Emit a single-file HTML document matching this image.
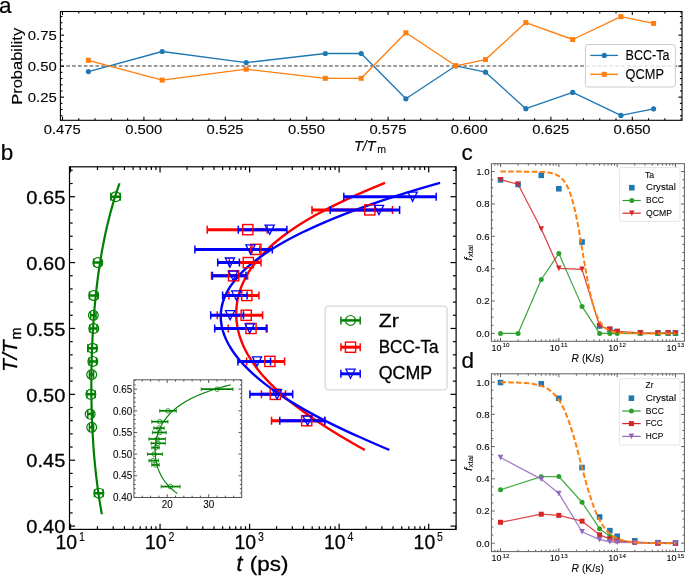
<!DOCTYPE html><html><head><meta charset="utf-8"><style>html,body{margin:0;padding:0;background:#fff;}svg{display:block;will-change:transform;}text{font-family:"Liberation Sans", sans-serif;stroke:#000;stroke-width:0.3px;} text.s{stroke-width:0.08px;} text.m{stroke-width:0.1px;}</style></head><body>
<svg width="685" height="576" viewBox="0 0 685 576">
<rect width="685" height="576" fill="#fff"/>
<defs><clipPath id="clipb"><rect x="69.5" y="167" width="386.6" height="362.2"/></clipPath></defs>
<line x1="60.40" y1="66.00" x2="682.00" y2="66.00" stroke="#7a7a7a" stroke-width="1.3" stroke-dasharray="3.7 2.14"/>
<polyline points="88.40,71.60 162.20,51.50 246.20,62.60 325.30,53.50 361.20,53.50 405.90,98.80 455.80,65.80 485.50,72.20 525.80,108.70 572.70,92.40 620.90,115.40 653.60,108.80" fill="none" stroke="#1f77b4" stroke-width="1.35" stroke-linejoin="round" stroke-linecap="butt" />
<circle cx="88.40" cy="71.60" r="2.6" fill="#1f77b4"/>
<circle cx="162.20" cy="51.50" r="2.6" fill="#1f77b4"/>
<circle cx="246.20" cy="62.60" r="2.6" fill="#1f77b4"/>
<circle cx="325.30" cy="53.50" r="2.6" fill="#1f77b4"/>
<circle cx="361.20" cy="53.50" r="2.6" fill="#1f77b4"/>
<circle cx="405.90" cy="98.80" r="2.6" fill="#1f77b4"/>
<circle cx="455.80" cy="65.80" r="2.6" fill="#1f77b4"/>
<circle cx="485.50" cy="72.20" r="2.6" fill="#1f77b4"/>
<circle cx="525.80" cy="108.70" r="2.6" fill="#1f77b4"/>
<circle cx="572.70" cy="92.40" r="2.6" fill="#1f77b4"/>
<circle cx="620.90" cy="115.40" r="2.6" fill="#1f77b4"/>
<circle cx="653.60" cy="108.80" r="2.6" fill="#1f77b4"/>
<polyline points="88.40,60.30 162.20,80.10 246.20,69.20 325.30,78.30 361.20,78.30 405.90,32.80 455.80,65.80 485.50,59.60 525.80,22.60 572.70,39.50 620.90,16.60 653.60,23.40" fill="none" stroke="#ff7f0e" stroke-width="1.35" stroke-linejoin="round" stroke-linecap="butt" />
<rect x="85.90" y="57.80" width="5" height="5" fill="#ff7f0e"/>
<rect x="159.70" y="77.60" width="5" height="5" fill="#ff7f0e"/>
<rect x="243.70" y="66.70" width="5" height="5" fill="#ff7f0e"/>
<rect x="322.80" y="75.80" width="5" height="5" fill="#ff7f0e"/>
<rect x="358.70" y="75.80" width="5" height="5" fill="#ff7f0e"/>
<rect x="403.40" y="30.30" width="5" height="5" fill="#ff7f0e"/>
<rect x="453.30" y="63.30" width="5" height="5" fill="#ff7f0e"/>
<rect x="483.00" y="57.10" width="5" height="5" fill="#ff7f0e"/>
<rect x="523.30" y="20.10" width="5" height="5" fill="#ff7f0e"/>
<rect x="570.20" y="37.00" width="5" height="5" fill="#ff7f0e"/>
<rect x="618.40" y="14.10" width="5" height="5" fill="#ff7f0e"/>
<rect x="651.10" y="20.90" width="5" height="5" fill="#ff7f0e"/>
<line x1="62.50" y1="120.30" x2="62.50" y2="116.70" stroke="#000" stroke-width="1.1" />
<line x1="62.50" y1="11.50" x2="62.50" y2="15.10" stroke="#000" stroke-width="1.1" />
<line x1="143.90" y1="120.30" x2="143.90" y2="116.70" stroke="#000" stroke-width="1.1" />
<line x1="143.90" y1="11.50" x2="143.90" y2="15.10" stroke="#000" stroke-width="1.1" />
<line x1="225.30" y1="120.30" x2="225.30" y2="116.70" stroke="#000" stroke-width="1.1" />
<line x1="225.30" y1="11.50" x2="225.30" y2="15.10" stroke="#000" stroke-width="1.1" />
<line x1="306.70" y1="120.30" x2="306.70" y2="116.70" stroke="#000" stroke-width="1.1" />
<line x1="306.70" y1="11.50" x2="306.70" y2="15.10" stroke="#000" stroke-width="1.1" />
<line x1="388.10" y1="120.30" x2="388.10" y2="116.70" stroke="#000" stroke-width="1.1" />
<line x1="388.10" y1="11.50" x2="388.10" y2="15.10" stroke="#000" stroke-width="1.1" />
<line x1="469.50" y1="120.30" x2="469.50" y2="116.70" stroke="#000" stroke-width="1.1" />
<line x1="469.50" y1="11.50" x2="469.50" y2="15.10" stroke="#000" stroke-width="1.1" />
<line x1="550.90" y1="120.30" x2="550.90" y2="116.70" stroke="#000" stroke-width="1.1" />
<line x1="550.90" y1="11.50" x2="550.90" y2="15.10" stroke="#000" stroke-width="1.1" />
<line x1="632.30" y1="120.30" x2="632.30" y2="116.70" stroke="#000" stroke-width="1.1" />
<line x1="632.30" y1="11.50" x2="632.30" y2="15.10" stroke="#000" stroke-width="1.1" />
<line x1="78.78" y1="120.30" x2="78.78" y2="118.20" stroke="#000" stroke-width="1.1" />
<line x1="78.78" y1="11.50" x2="78.78" y2="13.60" stroke="#000" stroke-width="1.1" />
<line x1="95.06" y1="120.30" x2="95.06" y2="118.20" stroke="#000" stroke-width="1.1" />
<line x1="95.06" y1="11.50" x2="95.06" y2="13.60" stroke="#000" stroke-width="1.1" />
<line x1="111.34" y1="120.30" x2="111.34" y2="118.20" stroke="#000" stroke-width="1.1" />
<line x1="111.34" y1="11.50" x2="111.34" y2="13.60" stroke="#000" stroke-width="1.1" />
<line x1="127.62" y1="120.30" x2="127.62" y2="118.20" stroke="#000" stroke-width="1.1" />
<line x1="127.62" y1="11.50" x2="127.62" y2="13.60" stroke="#000" stroke-width="1.1" />
<line x1="160.18" y1="120.30" x2="160.18" y2="118.20" stroke="#000" stroke-width="1.1" />
<line x1="160.18" y1="11.50" x2="160.18" y2="13.60" stroke="#000" stroke-width="1.1" />
<line x1="176.46" y1="120.30" x2="176.46" y2="118.20" stroke="#000" stroke-width="1.1" />
<line x1="176.46" y1="11.50" x2="176.46" y2="13.60" stroke="#000" stroke-width="1.1" />
<line x1="192.74" y1="120.30" x2="192.74" y2="118.20" stroke="#000" stroke-width="1.1" />
<line x1="192.74" y1="11.50" x2="192.74" y2="13.60" stroke="#000" stroke-width="1.1" />
<line x1="209.02" y1="120.30" x2="209.02" y2="118.20" stroke="#000" stroke-width="1.1" />
<line x1="209.02" y1="11.50" x2="209.02" y2="13.60" stroke="#000" stroke-width="1.1" />
<line x1="241.58" y1="120.30" x2="241.58" y2="118.20" stroke="#000" stroke-width="1.1" />
<line x1="241.58" y1="11.50" x2="241.58" y2="13.60" stroke="#000" stroke-width="1.1" />
<line x1="257.86" y1="120.30" x2="257.86" y2="118.20" stroke="#000" stroke-width="1.1" />
<line x1="257.86" y1="11.50" x2="257.86" y2="13.60" stroke="#000" stroke-width="1.1" />
<line x1="274.14" y1="120.30" x2="274.14" y2="118.20" stroke="#000" stroke-width="1.1" />
<line x1="274.14" y1="11.50" x2="274.14" y2="13.60" stroke="#000" stroke-width="1.1" />
<line x1="290.42" y1="120.30" x2="290.42" y2="118.20" stroke="#000" stroke-width="1.1" />
<line x1="290.42" y1="11.50" x2="290.42" y2="13.60" stroke="#000" stroke-width="1.1" />
<line x1="322.98" y1="120.30" x2="322.98" y2="118.20" stroke="#000" stroke-width="1.1" />
<line x1="322.98" y1="11.50" x2="322.98" y2="13.60" stroke="#000" stroke-width="1.1" />
<line x1="339.26" y1="120.30" x2="339.26" y2="118.20" stroke="#000" stroke-width="1.1" />
<line x1="339.26" y1="11.50" x2="339.26" y2="13.60" stroke="#000" stroke-width="1.1" />
<line x1="355.54" y1="120.30" x2="355.54" y2="118.20" stroke="#000" stroke-width="1.1" />
<line x1="355.54" y1="11.50" x2="355.54" y2="13.60" stroke="#000" stroke-width="1.1" />
<line x1="371.82" y1="120.30" x2="371.82" y2="118.20" stroke="#000" stroke-width="1.1" />
<line x1="371.82" y1="11.50" x2="371.82" y2="13.60" stroke="#000" stroke-width="1.1" />
<line x1="404.38" y1="120.30" x2="404.38" y2="118.20" stroke="#000" stroke-width="1.1" />
<line x1="404.38" y1="11.50" x2="404.38" y2="13.60" stroke="#000" stroke-width="1.1" />
<line x1="420.66" y1="120.30" x2="420.66" y2="118.20" stroke="#000" stroke-width="1.1" />
<line x1="420.66" y1="11.50" x2="420.66" y2="13.60" stroke="#000" stroke-width="1.1" />
<line x1="436.94" y1="120.30" x2="436.94" y2="118.20" stroke="#000" stroke-width="1.1" />
<line x1="436.94" y1="11.50" x2="436.94" y2="13.60" stroke="#000" stroke-width="1.1" />
<line x1="453.22" y1="120.30" x2="453.22" y2="118.20" stroke="#000" stroke-width="1.1" />
<line x1="453.22" y1="11.50" x2="453.22" y2="13.60" stroke="#000" stroke-width="1.1" />
<line x1="485.78" y1="120.30" x2="485.78" y2="118.20" stroke="#000" stroke-width="1.1" />
<line x1="485.78" y1="11.50" x2="485.78" y2="13.60" stroke="#000" stroke-width="1.1" />
<line x1="502.06" y1="120.30" x2="502.06" y2="118.20" stroke="#000" stroke-width="1.1" />
<line x1="502.06" y1="11.50" x2="502.06" y2="13.60" stroke="#000" stroke-width="1.1" />
<line x1="518.34" y1="120.30" x2="518.34" y2="118.20" stroke="#000" stroke-width="1.1" />
<line x1="518.34" y1="11.50" x2="518.34" y2="13.60" stroke="#000" stroke-width="1.1" />
<line x1="534.62" y1="120.30" x2="534.62" y2="118.20" stroke="#000" stroke-width="1.1" />
<line x1="534.62" y1="11.50" x2="534.62" y2="13.60" stroke="#000" stroke-width="1.1" />
<line x1="567.18" y1="120.30" x2="567.18" y2="118.20" stroke="#000" stroke-width="1.1" />
<line x1="567.18" y1="11.50" x2="567.18" y2="13.60" stroke="#000" stroke-width="1.1" />
<line x1="583.46" y1="120.30" x2="583.46" y2="118.20" stroke="#000" stroke-width="1.1" />
<line x1="583.46" y1="11.50" x2="583.46" y2="13.60" stroke="#000" stroke-width="1.1" />
<line x1="599.74" y1="120.30" x2="599.74" y2="118.20" stroke="#000" stroke-width="1.1" />
<line x1="599.74" y1="11.50" x2="599.74" y2="13.60" stroke="#000" stroke-width="1.1" />
<line x1="616.02" y1="120.30" x2="616.02" y2="118.20" stroke="#000" stroke-width="1.1" />
<line x1="616.02" y1="11.50" x2="616.02" y2="13.60" stroke="#000" stroke-width="1.1" />
<line x1="648.58" y1="120.30" x2="648.58" y2="118.20" stroke="#000" stroke-width="1.1" />
<line x1="648.58" y1="11.50" x2="648.58" y2="13.60" stroke="#000" stroke-width="1.1" />
<line x1="664.86" y1="120.30" x2="664.86" y2="118.20" stroke="#000" stroke-width="1.1" />
<line x1="664.86" y1="11.50" x2="664.86" y2="13.60" stroke="#000" stroke-width="1.1" />
<line x1="681.14" y1="120.30" x2="681.14" y2="118.20" stroke="#000" stroke-width="1.1" />
<line x1="681.14" y1="11.50" x2="681.14" y2="13.60" stroke="#000" stroke-width="1.1" />
<line x1="60.40" y1="97.15" x2="64.00" y2="97.15" stroke="#000" stroke-width="1.1" />
<line x1="682.00" y1="97.15" x2="678.40" y2="97.15" stroke="#000" stroke-width="1.1" />
<line x1="60.40" y1="66.15" x2="64.00" y2="66.15" stroke="#000" stroke-width="1.1" />
<line x1="682.00" y1="66.15" x2="678.40" y2="66.15" stroke="#000" stroke-width="1.1" />
<line x1="60.40" y1="35.15" x2="64.00" y2="35.15" stroke="#000" stroke-width="1.1" />
<line x1="682.00" y1="35.15" x2="678.40" y2="35.15" stroke="#000" stroke-width="1.1" />
<line x1="60.40" y1="115.75" x2="62.50" y2="115.75" stroke="#000" stroke-width="1.1" />
<line x1="682.00" y1="115.75" x2="679.90" y2="115.75" stroke="#000" stroke-width="1.1" />
<line x1="60.40" y1="109.55" x2="62.50" y2="109.55" stroke="#000" stroke-width="1.1" />
<line x1="682.00" y1="109.55" x2="679.90" y2="109.55" stroke="#000" stroke-width="1.1" />
<line x1="60.40" y1="103.35" x2="62.50" y2="103.35" stroke="#000" stroke-width="1.1" />
<line x1="682.00" y1="103.35" x2="679.90" y2="103.35" stroke="#000" stroke-width="1.1" />
<line x1="60.40" y1="90.95" x2="62.50" y2="90.95" stroke="#000" stroke-width="1.1" />
<line x1="682.00" y1="90.95" x2="679.90" y2="90.95" stroke="#000" stroke-width="1.1" />
<line x1="60.40" y1="84.75" x2="62.50" y2="84.75" stroke="#000" stroke-width="1.1" />
<line x1="682.00" y1="84.75" x2="679.90" y2="84.75" stroke="#000" stroke-width="1.1" />
<line x1="60.40" y1="78.55" x2="62.50" y2="78.55" stroke="#000" stroke-width="1.1" />
<line x1="682.00" y1="78.55" x2="679.90" y2="78.55" stroke="#000" stroke-width="1.1" />
<line x1="60.40" y1="72.35" x2="62.50" y2="72.35" stroke="#000" stroke-width="1.1" />
<line x1="682.00" y1="72.35" x2="679.90" y2="72.35" stroke="#000" stroke-width="1.1" />
<line x1="60.40" y1="59.95" x2="62.50" y2="59.95" stroke="#000" stroke-width="1.1" />
<line x1="682.00" y1="59.95" x2="679.90" y2="59.95" stroke="#000" stroke-width="1.1" />
<line x1="60.40" y1="53.75" x2="62.50" y2="53.75" stroke="#000" stroke-width="1.1" />
<line x1="682.00" y1="53.75" x2="679.90" y2="53.75" stroke="#000" stroke-width="1.1" />
<line x1="60.40" y1="47.55" x2="62.50" y2="47.55" stroke="#000" stroke-width="1.1" />
<line x1="682.00" y1="47.55" x2="679.90" y2="47.55" stroke="#000" stroke-width="1.1" />
<line x1="60.40" y1="41.35" x2="62.50" y2="41.35" stroke="#000" stroke-width="1.1" />
<line x1="682.00" y1="41.35" x2="679.90" y2="41.35" stroke="#000" stroke-width="1.1" />
<line x1="60.40" y1="28.95" x2="62.50" y2="28.95" stroke="#000" stroke-width="1.1" />
<line x1="682.00" y1="28.95" x2="679.90" y2="28.95" stroke="#000" stroke-width="1.1" />
<line x1="60.40" y1="22.75" x2="62.50" y2="22.75" stroke="#000" stroke-width="1.1" />
<line x1="682.00" y1="22.75" x2="679.90" y2="22.75" stroke="#000" stroke-width="1.1" />
<line x1="60.40" y1="16.55" x2="62.50" y2="16.55" stroke="#000" stroke-width="1.1" />
<line x1="682.00" y1="16.55" x2="679.90" y2="16.55" stroke="#000" stroke-width="1.1" />
<rect x="60.40" y="11.50" width="621.60" height="108.80" fill="none" stroke="#000" stroke-width="1.1"/>
<text class="m" x="62.30" y="134.30" font-size="13.0" text-anchor="middle" textLength="37.00" lengthAdjust="spacingAndGlyphs" fill="#000" >0.475</text>
<text class="m" x="143.70" y="134.30" font-size="13.0" text-anchor="middle" textLength="37.00" lengthAdjust="spacingAndGlyphs" fill="#000" >0.500</text>
<text class="m" x="225.10" y="134.30" font-size="13.0" text-anchor="middle" textLength="37.00" lengthAdjust="spacingAndGlyphs" fill="#000" >0.525</text>
<text class="m" x="306.50" y="134.30" font-size="13.0" text-anchor="middle" textLength="37.00" lengthAdjust="spacingAndGlyphs" fill="#000" >0.550</text>
<text class="m" x="387.90" y="134.30" font-size="13.0" text-anchor="middle" textLength="37.00" lengthAdjust="spacingAndGlyphs" fill="#000" >0.575</text>
<text class="m" x="469.30" y="134.30" font-size="13.0" text-anchor="middle" textLength="37.00" lengthAdjust="spacingAndGlyphs" fill="#000" >0.600</text>
<text class="m" x="550.70" y="134.30" font-size="13.0" text-anchor="middle" textLength="37.00" lengthAdjust="spacingAndGlyphs" fill="#000" >0.625</text>
<text class="m" x="632.10" y="134.30" font-size="13.0" text-anchor="middle" textLength="37.00" lengthAdjust="spacingAndGlyphs" fill="#000" >0.650</text>
<text class="m" x="56.80" y="102.05" font-size="13.2" text-anchor="end" textLength="29.00" lengthAdjust="spacingAndGlyphs" fill="#000" >0.25</text>
<text class="m" x="56.80" y="71.05" font-size="13.2" text-anchor="end" textLength="29.00" lengthAdjust="spacingAndGlyphs" fill="#000" >0.50</text>
<text class="m" x="56.80" y="40.05" font-size="13.2" text-anchor="end" textLength="29.00" lengthAdjust="spacingAndGlyphs" fill="#000" >0.75</text>
<text class="m" x="354.00" y="150.70" font-size="14.4" text-anchor="start" font-style="italic" fill="#000" >T/T</text>
<text class="s" x="377.20" y="153.10" font-size="10.6" text-anchor="start" fill="#000" >m</text>
<text class="m" transform="translate(22.1,104.8) rotate(-90)" x="0" y="0" font-size="14.8" textLength="77.0" lengthAdjust="spacingAndGlyphs">Probability</text>
<rect x="585.4" y="44.5" width="90" height="42.5" rx="2.5" fill="#fff" fill-opacity="0.8" stroke="#ccc" stroke-width="1"/>
<line x1="590.30" y1="55.40" x2="618.00" y2="55.40" stroke="#1f77b4" stroke-width="1.35" />
<circle cx="604.3" cy="55.4" r="2.6" fill="#1f77b4"/>
<line x1="590.30" y1="74.30" x2="618.00" y2="74.30" stroke="#ff7f0e" stroke-width="1.35" />
<rect x="601.8" y="71.8" width="5" height="5" fill="#ff7f0e"/>
<text class="m" x="625.60" y="60.10" font-size="14.0" text-anchor="start" textLength="43.90" lengthAdjust="spacingAndGlyphs" fill="#000" >BCC-Ta</text>
<text class="m" x="625.60" y="79.10" font-size="14.0" text-anchor="start" textLength="38.30" lengthAdjust="spacingAndGlyphs" fill="#000" >QCMP</text>
<text x="-0.90" y="12.70" font-size="22.5" text-anchor="start" fill="#000" style="stroke-width:0.2px">a</text>
<g clip-path="url(#clipb)">
<polyline points="101.89,514.24 101.12,510.05 100.39,505.86 99.70,501.67 99.04,497.48 98.42,493.29 97.83,489.10 97.27,484.91 96.74,480.72 96.24,476.53 95.77,472.35 95.32,468.16 94.91,463.97 94.52,459.78 94.15,455.59 93.81,451.40 93.50,447.21 93.21,443.02 92.94,438.83 92.70,434.64 92.47,430.45 92.27,426.26 92.09,422.07 91.93,417.88 91.79,413.69 91.67,409.50 91.57,405.31 91.48,401.12 91.42,396.93 91.38,392.74 91.35,388.55 91.35,384.36 91.36,380.17 91.39,375.98 91.44,371.79 91.51,367.60 91.59,363.41 91.70,359.23 91.82,355.04 91.96,350.85 92.12,346.66 92.30,342.47 92.50,338.28 92.72,334.09 92.96,329.90 93.22,325.71 93.50,321.52 93.81,317.33 94.13,313.14 94.48,308.95 94.85,304.76 95.24,300.57 95.66,296.38 96.11,292.19 96.58,288.00 97.07,283.81 97.60,279.62 98.15,275.43 98.73,271.24 99.34,267.05 99.98,262.86 100.65,258.67 101.36,254.48 102.10,250.29 102.88,246.10 103.69,241.92 104.54,237.73 105.42,233.54 106.35,229.35 107.32,225.16 108.33,220.97 109.38,216.78 110.48,212.59 111.62,208.40 112.81,204.21 114.06,200.02 115.35,195.83 116.70,191.64 118.10,187.45 119.55,183.26" fill="none" stroke="#008000" stroke-width="2.2" stroke-linejoin="round" stroke-linecap="butt" />
<polyline points="385.00,182.90 379.50,185.14 374.08,187.39 368.75,189.63 363.51,191.88 358.37,194.12 353.34,196.37 348.41,198.61 343.60,200.86 338.89,203.10 334.30,205.35 329.82,207.59 325.45,209.83 321.21,212.08 317.08,214.32 313.07,216.57 309.17,218.81 305.40,221.06 301.74,223.30 298.19,225.55 294.76,227.79 291.45,230.04 288.25,232.28 285.16,234.52 282.19,236.77 279.32,239.01 276.56,241.26 273.91,243.50 271.36,245.75 268.91,247.99 266.57,250.24 264.33,252.48 262.19,254.73 260.14,256.97 258.19,259.21 256.33,261.46 254.56,263.70 252.88,265.95 251.29,268.19 249.79,270.44 248.38,272.68 247.04,274.93 245.80,277.17 244.63,279.42 243.54,281.66 242.53,283.90 241.60,286.15 240.75,288.39 239.98,290.64 239.27,292.88 238.65,295.13 238.09,297.37 237.61,299.62 237.20,301.86 236.87,304.11 236.60,306.35 236.41,308.59 236.28,310.84 236.23,313.08 236.25,315.33 236.33,317.57 236.49,319.82 236.71,322.06 237.00,324.31 237.37,326.55 237.80,328.79 238.30,331.04 238.87,333.28 239.51,335.53 240.22,337.77 241.01,340.02 241.86,342.26 242.78,344.51 243.77,346.75 244.83,349.00 245.97,351.24 247.17,353.48 248.45,355.73 249.80,357.97 251.22,360.22 252.71,362.46 254.27,364.71 255.91,366.95 257.62,369.20 259.40,371.44 261.25,373.69 263.18,375.93 265.17,378.17 267.24,380.42 269.39,382.66 271.60,384.91 273.88,387.15 276.24,389.40 278.67,391.64 281.17,393.89 283.73,396.13 286.37,398.38 289.08,400.62 291.86,402.86 294.70,405.11 297.61,407.35 300.59,409.60 303.64,411.84 306.75,414.09 309.92,416.33 313.16,418.58 316.46,420.82 319.83,423.07 323.26,425.31 326.74,427.55 330.29,429.80 333.90,432.04 337.57,434.29 341.29,436.53 345.07,438.78 348.91,441.02 352.81,443.27 356.76,445.51 360.76,447.76 364.83,450.00" fill="none" stroke="#ff0000" stroke-width="2.4" stroke-linejoin="round" stroke-linecap="butt" />
<polyline points="440.02,182.90 432.06,185.14 424.29,187.39 416.69,189.63 409.27,191.88 402.02,194.12 394.93,196.37 388.01,198.61 381.25,200.86 374.65,203.10 368.21,205.35 361.92,207.59 355.79,209.83 349.81,212.08 343.98,214.32 338.29,216.57 332.76,218.81 327.37,221.06 322.13,223.30 317.03,225.55 312.08,227.79 307.26,230.04 302.59,232.28 298.06,234.52 293.67,236.77 289.41,239.01 285.30,241.26 281.32,243.50 277.48,245.75 273.77,247.99 270.20,250.24 266.76,252.48 263.45,254.73 260.28,256.97 257.23,259.21 254.32,261.46 251.53,263.70 248.88,265.95 246.35,268.19 243.94,270.44 241.67,272.68 239.51,274.93 237.48,277.17 235.57,279.42 233.79,281.66 232.12,283.90 230.57,286.15 229.14,288.39 227.83,290.64 226.63,292.88 225.55,295.13 224.58,297.37 223.72,299.62 222.98,301.86 222.34,304.11 221.81,306.35 221.40,308.59 221.09,310.84 220.88,313.08 220.78,315.33 220.78,317.57 220.89,319.82 221.10,322.06 221.41,324.31 221.83,326.55 222.34,328.79 222.95,331.04 223.66,333.28 224.47,335.53 225.37,337.77 226.37,340.02 227.47,342.26 228.66,344.51 229.95,346.75 231.34,349.00 232.81,351.24 234.39,353.48 236.05,355.73 237.81,357.97 239.67,360.22 241.62,362.46 243.66,364.71 245.80,366.95 248.03,369.20 250.35,371.44 252.77,373.69 255.28,375.93 257.89,378.17 260.59,380.42 263.39,382.66 266.28,384.91 269.27,387.15 272.35,389.40 275.53,391.64 278.80,393.89 282.17,396.13 285.64,398.38 289.20,400.62 292.85,402.86 296.60,405.11 300.45,407.35 304.38,409.60 308.42,411.84 312.54,414.09 316.75,416.33 321.06,418.58 325.45,420.82 329.93,423.07 334.49,425.31 339.14,427.55 343.87,429.80 348.67,432.04 353.55,434.29 358.50,436.53 363.51,438.78 368.58,441.02 373.72,443.27 378.90,445.51 384.12,447.76 389.39,450.00" fill="none" stroke="#0000ff" stroke-width="2.4" stroke-linejoin="round" stroke-linecap="butt" />
<line x1="110.82" y1="196.70" x2="120.17" y2="196.70" stroke="#008000" stroke-width="2.5" />
<line x1="110.82" y1="192.70" x2="110.82" y2="200.70" stroke="#008000" stroke-width="1.5" />
<line x1="120.17" y1="192.70" x2="120.17" y2="200.70" stroke="#008000" stroke-width="1.5" />
<line x1="93.77" y1="262.58" x2="101.52" y2="262.58" stroke="#008000" stroke-width="2.5" />
<line x1="93.77" y1="258.58" x2="93.77" y2="266.58" stroke="#008000" stroke-width="1.5" />
<line x1="101.52" y1="258.58" x2="101.52" y2="266.58" stroke="#008000" stroke-width="1.5" />
<line x1="89.43" y1="295.52" x2="97.82" y2="295.52" stroke="#008000" stroke-width="2.5" />
<line x1="89.43" y1="291.52" x2="89.43" y2="299.52" stroke="#008000" stroke-width="1.5" />
<line x1="97.82" y1="291.52" x2="97.82" y2="299.52" stroke="#008000" stroke-width="1.5" />
<line x1="90.58" y1="315.28" x2="96.03" y2="315.28" stroke="#008000" stroke-width="2.5" />
<line x1="90.58" y1="311.28" x2="90.58" y2="319.28" stroke="#008000" stroke-width="1.5" />
<line x1="96.03" y1="311.28" x2="96.03" y2="319.28" stroke="#008000" stroke-width="1.5" />
<line x1="89.81" y1="328.46" x2="97.01" y2="328.46" stroke="#008000" stroke-width="2.5" />
<line x1="89.81" y1="324.46" x2="89.81" y2="332.46" stroke="#008000" stroke-width="1.5" />
<line x1="97.01" y1="324.46" x2="97.01" y2="332.46" stroke="#008000" stroke-width="1.5" />
<line x1="87.77" y1="348.22" x2="96.69" y2="348.22" stroke="#008000" stroke-width="2.5" />
<line x1="87.77" y1="344.22" x2="87.77" y2="352.22" stroke="#008000" stroke-width="1.5" />
<line x1="96.69" y1="344.22" x2="96.69" y2="352.22" stroke="#008000" stroke-width="1.5" />
<line x1="89.02" y1="361.40" x2="96.55" y2="361.40" stroke="#008000" stroke-width="2.5" />
<line x1="89.02" y1="357.40" x2="89.02" y2="365.40" stroke="#008000" stroke-width="1.5" />
<line x1="96.55" y1="357.40" x2="96.55" y2="365.40" stroke="#008000" stroke-width="1.5" />
<line x1="89.43" y1="374.58" x2="93.58" y2="374.58" stroke="#008000" stroke-width="2.5" />
<line x1="89.43" y1="370.58" x2="89.43" y2="378.58" stroke="#008000" stroke-width="1.5" />
<line x1="93.58" y1="370.58" x2="93.58" y2="378.58" stroke="#008000" stroke-width="1.5" />
<line x1="86.91" y1="394.34" x2="95.20" y2="394.34" stroke="#008000" stroke-width="2.5" />
<line x1="86.91" y1="390.34" x2="86.91" y2="398.34" stroke="#008000" stroke-width="1.5" />
<line x1="95.20" y1="390.34" x2="95.20" y2="398.34" stroke="#008000" stroke-width="1.5" />
<line x1="87.77" y1="414.10" x2="93.21" y2="414.10" stroke="#008000" stroke-width="2.5" />
<line x1="87.77" y1="410.10" x2="87.77" y2="418.10" stroke="#008000" stroke-width="1.5" />
<line x1="93.21" y1="410.10" x2="93.21" y2="418.10" stroke="#008000" stroke-width="1.5" />
<line x1="89.43" y1="427.28" x2="93.58" y2="427.28" stroke="#008000" stroke-width="2.5" />
<line x1="89.43" y1="423.28" x2="89.43" y2="431.28" stroke="#008000" stroke-width="1.5" />
<line x1="93.58" y1="423.28" x2="93.58" y2="431.28" stroke="#008000" stroke-width="1.5" />
<line x1="94.49" y1="493.16" x2="103.08" y2="493.16" stroke="#008000" stroke-width="2.5" />
<line x1="94.49" y1="489.16" x2="94.49" y2="497.16" stroke="#008000" stroke-width="1.5" />
<line x1="103.08" y1="489.16" x2="103.08" y2="497.16" stroke="#008000" stroke-width="1.5" />
<line x1="312.00" y1="209.88" x2="392.50" y2="209.88" stroke="#ff0000" stroke-width="3.0" />
<line x1="312.00" y1="205.88" x2="312.00" y2="213.88" stroke="#ff0000" stroke-width="1.5" />
<line x1="392.50" y1="205.88" x2="392.50" y2="213.88" stroke="#ff0000" stroke-width="1.5" />
<line x1="207.20" y1="229.64" x2="267.23" y2="229.64" stroke="#ff0000" stroke-width="3.0" />
<line x1="207.20" y1="225.64" x2="207.20" y2="233.64" stroke="#ff0000" stroke-width="1.5" />
<line x1="267.23" y1="225.64" x2="267.23" y2="233.64" stroke="#ff0000" stroke-width="1.5" />
<line x1="252.00" y1="249.40" x2="259.80" y2="249.40" stroke="#ff0000" stroke-width="3.0" />
<line x1="252.00" y1="245.40" x2="252.00" y2="253.40" stroke="#ff0000" stroke-width="1.5" />
<line x1="259.80" y1="245.40" x2="259.80" y2="253.40" stroke="#ff0000" stroke-width="1.5" />
<line x1="229.32" y1="262.58" x2="261.00" y2="262.58" stroke="#ff0000" stroke-width="3.0" />
<line x1="229.32" y1="258.58" x2="229.32" y2="266.58" stroke="#ff0000" stroke-width="1.5" />
<line x1="261.00" y1="258.58" x2="261.00" y2="266.58" stroke="#ff0000" stroke-width="1.5" />
<line x1="211.50" y1="275.76" x2="247.61" y2="275.76" stroke="#ff0000" stroke-width="3.0" />
<line x1="211.50" y1="271.76" x2="211.50" y2="279.76" stroke="#ff0000" stroke-width="1.5" />
<line x1="247.61" y1="271.76" x2="247.61" y2="279.76" stroke="#ff0000" stroke-width="1.5" />
<line x1="228.92" y1="295.52" x2="259.00" y2="295.52" stroke="#ff0000" stroke-width="3.0" />
<line x1="228.92" y1="291.52" x2="228.92" y2="299.52" stroke="#ff0000" stroke-width="1.5" />
<line x1="259.00" y1="291.52" x2="259.00" y2="299.52" stroke="#ff0000" stroke-width="1.5" />
<line x1="217.30" y1="315.28" x2="262.60" y2="315.28" stroke="#ff0000" stroke-width="3.0" />
<line x1="217.30" y1="311.28" x2="217.30" y2="319.28" stroke="#ff0000" stroke-width="1.5" />
<line x1="262.60" y1="311.28" x2="262.60" y2="319.28" stroke="#ff0000" stroke-width="1.5" />
<line x1="228.20" y1="328.46" x2="266.20" y2="328.46" stroke="#ff0000" stroke-width="3.0" />
<line x1="228.20" y1="324.46" x2="228.20" y2="332.46" stroke="#ff0000" stroke-width="1.5" />
<line x1="266.20" y1="324.46" x2="266.20" y2="332.46" stroke="#ff0000" stroke-width="1.5" />
<line x1="246.60" y1="361.40" x2="284.60" y2="361.40" stroke="#ff0000" stroke-width="3.0" />
<line x1="246.60" y1="357.40" x2="246.60" y2="365.40" stroke="#ff0000" stroke-width="1.5" />
<line x1="284.60" y1="357.40" x2="284.60" y2="365.40" stroke="#ff0000" stroke-width="1.5" />
<line x1="261.40" y1="394.34" x2="285.50" y2="394.34" stroke="#ff0000" stroke-width="3.0" />
<line x1="261.40" y1="390.34" x2="261.40" y2="398.34" stroke="#ff0000" stroke-width="1.5" />
<line x1="285.50" y1="390.34" x2="285.50" y2="398.34" stroke="#ff0000" stroke-width="1.5" />
<line x1="271.50" y1="420.69" x2="324.87" y2="420.69" stroke="#ff0000" stroke-width="3.0" />
<line x1="271.50" y1="416.69" x2="271.50" y2="424.69" stroke="#ff0000" stroke-width="1.5" />
<line x1="324.87" y1="416.69" x2="324.87" y2="424.69" stroke="#ff0000" stroke-width="1.5" />
<line x1="343.80" y1="196.70" x2="436.20" y2="196.70" stroke="#0000ff" stroke-width="3.0" />
<line x1="343.80" y1="192.70" x2="343.80" y2="200.70" stroke="#0000ff" stroke-width="1.5" />
<line x1="436.20" y1="192.70" x2="436.20" y2="200.70" stroke="#0000ff" stroke-width="1.5" />
<line x1="330.20" y1="209.88" x2="399.60" y2="209.88" stroke="#0000ff" stroke-width="3.0" />
<line x1="330.20" y1="205.88" x2="330.20" y2="213.88" stroke="#0000ff" stroke-width="1.5" />
<line x1="399.60" y1="205.88" x2="399.60" y2="213.88" stroke="#0000ff" stroke-width="1.5" />
<line x1="238.30" y1="229.64" x2="286.90" y2="229.64" stroke="#0000ff" stroke-width="3.0" />
<line x1="238.30" y1="225.64" x2="238.30" y2="233.64" stroke="#0000ff" stroke-width="1.5" />
<line x1="286.90" y1="225.64" x2="286.90" y2="233.64" stroke="#0000ff" stroke-width="1.5" />
<line x1="194.90" y1="249.40" x2="272.30" y2="249.40" stroke="#0000ff" stroke-width="3.0" />
<line x1="194.90" y1="245.40" x2="194.90" y2="253.40" stroke="#0000ff" stroke-width="1.5" />
<line x1="272.30" y1="245.40" x2="272.30" y2="253.40" stroke="#0000ff" stroke-width="1.5" />
<line x1="217.70" y1="262.58" x2="239.40" y2="262.58" stroke="#0000ff" stroke-width="3.0" />
<line x1="217.70" y1="258.58" x2="217.70" y2="266.58" stroke="#0000ff" stroke-width="1.5" />
<line x1="239.40" y1="258.58" x2="239.40" y2="266.58" stroke="#0000ff" stroke-width="1.5" />
<line x1="212.40" y1="275.76" x2="246.00" y2="275.76" stroke="#0000ff" stroke-width="3.0" />
<line x1="212.40" y1="271.76" x2="212.40" y2="279.76" stroke="#0000ff" stroke-width="1.5" />
<line x1="246.00" y1="271.76" x2="246.00" y2="279.76" stroke="#0000ff" stroke-width="1.5" />
<line x1="222.60" y1="295.52" x2="247.10" y2="295.52" stroke="#0000ff" stroke-width="3.0" />
<line x1="222.60" y1="291.52" x2="222.60" y2="299.52" stroke="#0000ff" stroke-width="1.5" />
<line x1="247.10" y1="291.52" x2="247.10" y2="299.52" stroke="#0000ff" stroke-width="1.5" />
<line x1="210.70" y1="315.28" x2="243.50" y2="315.28" stroke="#0000ff" stroke-width="3.0" />
<line x1="210.70" y1="311.28" x2="210.70" y2="319.28" stroke="#0000ff" stroke-width="1.5" />
<line x1="243.50" y1="311.28" x2="243.50" y2="319.28" stroke="#0000ff" stroke-width="1.5" />
<line x1="214.70" y1="328.46" x2="267.00" y2="328.46" stroke="#0000ff" stroke-width="3.0" />
<line x1="214.70" y1="324.46" x2="214.70" y2="332.46" stroke="#0000ff" stroke-width="1.5" />
<line x1="267.00" y1="324.46" x2="267.00" y2="332.46" stroke="#0000ff" stroke-width="1.5" />
<line x1="237.90" y1="361.40" x2="270.50" y2="361.40" stroke="#0000ff" stroke-width="3.0" />
<line x1="237.90" y1="357.40" x2="237.90" y2="365.40" stroke="#0000ff" stroke-width="1.5" />
<line x1="270.50" y1="357.40" x2="270.50" y2="365.40" stroke="#0000ff" stroke-width="1.5" />
<line x1="249.90" y1="394.34" x2="292.70" y2="394.34" stroke="#0000ff" stroke-width="3.0" />
<line x1="249.90" y1="390.34" x2="249.90" y2="398.34" stroke="#0000ff" stroke-width="1.5" />
<line x1="292.70" y1="390.34" x2="292.70" y2="398.34" stroke="#0000ff" stroke-width="1.5" />
<line x1="279.80" y1="420.69" x2="324.80" y2="420.69" stroke="#0000ff" stroke-width="3.0" />
<line x1="279.80" y1="416.69" x2="279.80" y2="424.69" stroke="#0000ff" stroke-width="1.5" />
<line x1="324.80" y1="416.69" x2="324.80" y2="424.69" stroke="#0000ff" stroke-width="1.5" />
<circle cx="115.76" cy="196.70" r="4.9" fill="none" stroke="#008000" stroke-width="1.2"/>
<circle cx="97.82" cy="262.58" r="4.9" fill="none" stroke="#008000" stroke-width="1.2"/>
<circle cx="93.77" cy="295.52" r="4.9" fill="none" stroke="#008000" stroke-width="1.2"/>
<circle cx="93.36" cy="315.28" r="4.9" fill="none" stroke="#008000" stroke-width="1.2"/>
<circle cx="93.77" cy="328.46" r="4.9" fill="none" stroke="#008000" stroke-width="1.2"/>
<circle cx="92.46" cy="348.22" r="4.9" fill="none" stroke="#008000" stroke-width="1.2"/>
<circle cx="92.84" cy="361.40" r="4.9" fill="none" stroke="#008000" stroke-width="1.2"/>
<circle cx="91.70" cy="374.58" r="4.9" fill="none" stroke="#008000" stroke-width="1.2"/>
<circle cx="90.84" cy="394.34" r="4.9" fill="none" stroke="#008000" stroke-width="1.2"/>
<circle cx="90.16" cy="414.10" r="4.9" fill="none" stroke="#008000" stroke-width="1.2"/>
<circle cx="91.70" cy="427.28" r="4.9" fill="none" stroke="#008000" stroke-width="1.2"/>
<circle cx="98.93" cy="493.16" r="4.9" fill="none" stroke="#008000" stroke-width="1.2"/>
<rect x="364.70" y="204.78" width="10.2" height="10.2" fill="none" stroke="#ff0000" stroke-width="1.4"/>
<rect x="242.70" y="224.54" width="10.2" height="10.2" fill="none" stroke="#ff0000" stroke-width="1.4"/>
<rect x="250.80" y="244.30" width="10.2" height="10.2" fill="none" stroke="#ff0000" stroke-width="1.4"/>
<rect x="243.20" y="257.48" width="10.2" height="10.2" fill="none" stroke="#ff0000" stroke-width="1.4"/>
<rect x="228.50" y="270.66" width="10.2" height="10.2" fill="none" stroke="#ff0000" stroke-width="1.4"/>
<rect x="241.70" y="290.42" width="10.2" height="10.2" fill="none" stroke="#ff0000" stroke-width="1.4"/>
<rect x="241.10" y="310.18" width="10.2" height="10.2" fill="none" stroke="#ff0000" stroke-width="1.4"/>
<rect x="245.90" y="323.36" width="10.2" height="10.2" fill="none" stroke="#ff0000" stroke-width="1.4"/>
<rect x="264.80" y="356.30" width="10.2" height="10.2" fill="none" stroke="#ff0000" stroke-width="1.4"/>
<rect x="270.20" y="389.24" width="10.2" height="10.2" fill="none" stroke="#ff0000" stroke-width="1.4"/>
<rect x="301.60" y="415.59" width="10.2" height="10.2" fill="none" stroke="#ff0000" stroke-width="1.4"/>
<path d="M408.00,192.10 L417.20,192.10 L412.60,201.30 Z" fill="none" stroke="#0000ff" stroke-width="1.3"/>
<path d="M374.40,205.28 L383.60,205.28 L379.00,214.48 Z" fill="none" stroke="#0000ff" stroke-width="1.3"/>
<path d="M265.10,225.04 L274.30,225.04 L269.70,234.24 Z" fill="none" stroke="#0000ff" stroke-width="1.3"/>
<path d="M245.90,244.80 L255.10,244.80 L250.50,254.00 Z" fill="none" stroke="#0000ff" stroke-width="1.3"/>
<path d="M225.30,257.98 L234.50,257.98 L229.90,267.18 Z" fill="none" stroke="#0000ff" stroke-width="1.3"/>
<path d="M228.60,271.16 L237.80,271.16 L233.20,280.36 Z" fill="none" stroke="#0000ff" stroke-width="1.3"/>
<path d="M231.70,290.92 L240.90,290.92 L236.30,300.12 Z" fill="none" stroke="#0000ff" stroke-width="1.3"/>
<path d="M225.50,310.68 L234.70,310.68 L230.10,319.88 Z" fill="none" stroke="#0000ff" stroke-width="1.3"/>
<path d="M245.10,323.86 L254.30,323.86 L249.70,333.06 Z" fill="none" stroke="#0000ff" stroke-width="1.3"/>
<path d="M252.40,356.80 L261.60,356.80 L257.00,366.00 Z" fill="none" stroke="#0000ff" stroke-width="1.3"/>
<path d="M272.40,389.74 L281.60,389.74 L277.00,398.94 Z" fill="none" stroke="#0000ff" stroke-width="1.3"/>
<path d="M303.00,416.09 L312.20,416.09 L307.60,425.29 Z" fill="none" stroke="#0000ff" stroke-width="1.3"/>
</g>
<line x1="70.50" y1="529.40" x2="70.50" y2="523.80" stroke="#000" stroke-width="1.2" />
<line x1="70.50" y1="166.80" x2="70.50" y2="172.40" stroke="#000" stroke-width="1.2" />
<line x1="160.05" y1="529.40" x2="160.05" y2="523.80" stroke="#000" stroke-width="1.2" />
<line x1="160.05" y1="166.80" x2="160.05" y2="172.40" stroke="#000" stroke-width="1.2" />
<line x1="249.60" y1="529.40" x2="249.60" y2="523.80" stroke="#000" stroke-width="1.2" />
<line x1="249.60" y1="166.80" x2="249.60" y2="172.40" stroke="#000" stroke-width="1.2" />
<line x1="339.15" y1="529.40" x2="339.15" y2="523.80" stroke="#000" stroke-width="1.2" />
<line x1="339.15" y1="166.80" x2="339.15" y2="172.40" stroke="#000" stroke-width="1.2" />
<line x1="428.70" y1="529.40" x2="428.70" y2="523.80" stroke="#000" stroke-width="1.2" />
<line x1="428.70" y1="166.80" x2="428.70" y2="172.40" stroke="#000" stroke-width="1.2" />
<line x1="97.46" y1="529.40" x2="97.46" y2="526.20" stroke="#000" stroke-width="1.2" />
<line x1="97.46" y1="166.80" x2="97.46" y2="170.00" stroke="#000" stroke-width="1.2" />
<line x1="113.23" y1="529.40" x2="113.23" y2="526.20" stroke="#000" stroke-width="1.2" />
<line x1="113.23" y1="166.80" x2="113.23" y2="170.00" stroke="#000" stroke-width="1.2" />
<line x1="124.41" y1="529.40" x2="124.41" y2="526.20" stroke="#000" stroke-width="1.2" />
<line x1="124.41" y1="166.80" x2="124.41" y2="170.00" stroke="#000" stroke-width="1.2" />
<line x1="133.09" y1="529.40" x2="133.09" y2="526.20" stroke="#000" stroke-width="1.2" />
<line x1="133.09" y1="166.80" x2="133.09" y2="170.00" stroke="#000" stroke-width="1.2" />
<line x1="140.18" y1="529.40" x2="140.18" y2="526.20" stroke="#000" stroke-width="1.2" />
<line x1="140.18" y1="166.80" x2="140.18" y2="170.00" stroke="#000" stroke-width="1.2" />
<line x1="146.18" y1="529.40" x2="146.18" y2="526.20" stroke="#000" stroke-width="1.2" />
<line x1="146.18" y1="166.80" x2="146.18" y2="170.00" stroke="#000" stroke-width="1.2" />
<line x1="151.37" y1="529.40" x2="151.37" y2="526.20" stroke="#000" stroke-width="1.2" />
<line x1="151.37" y1="166.80" x2="151.37" y2="170.00" stroke="#000" stroke-width="1.2" />
<line x1="155.95" y1="529.40" x2="155.95" y2="526.20" stroke="#000" stroke-width="1.2" />
<line x1="155.95" y1="166.80" x2="155.95" y2="170.00" stroke="#000" stroke-width="1.2" />
<line x1="187.01" y1="529.40" x2="187.01" y2="526.20" stroke="#000" stroke-width="1.2" />
<line x1="187.01" y1="166.80" x2="187.01" y2="170.00" stroke="#000" stroke-width="1.2" />
<line x1="202.78" y1="529.40" x2="202.78" y2="526.20" stroke="#000" stroke-width="1.2" />
<line x1="202.78" y1="166.80" x2="202.78" y2="170.00" stroke="#000" stroke-width="1.2" />
<line x1="213.96" y1="529.40" x2="213.96" y2="526.20" stroke="#000" stroke-width="1.2" />
<line x1="213.96" y1="166.80" x2="213.96" y2="170.00" stroke="#000" stroke-width="1.2" />
<line x1="222.64" y1="529.40" x2="222.64" y2="526.20" stroke="#000" stroke-width="1.2" />
<line x1="222.64" y1="166.80" x2="222.64" y2="170.00" stroke="#000" stroke-width="1.2" />
<line x1="229.73" y1="529.40" x2="229.73" y2="526.20" stroke="#000" stroke-width="1.2" />
<line x1="229.73" y1="166.80" x2="229.73" y2="170.00" stroke="#000" stroke-width="1.2" />
<line x1="235.73" y1="529.40" x2="235.73" y2="526.20" stroke="#000" stroke-width="1.2" />
<line x1="235.73" y1="166.80" x2="235.73" y2="170.00" stroke="#000" stroke-width="1.2" />
<line x1="240.92" y1="529.40" x2="240.92" y2="526.20" stroke="#000" stroke-width="1.2" />
<line x1="240.92" y1="166.80" x2="240.92" y2="170.00" stroke="#000" stroke-width="1.2" />
<line x1="245.50" y1="529.40" x2="245.50" y2="526.20" stroke="#000" stroke-width="1.2" />
<line x1="245.50" y1="166.80" x2="245.50" y2="170.00" stroke="#000" stroke-width="1.2" />
<line x1="276.56" y1="529.40" x2="276.56" y2="526.20" stroke="#000" stroke-width="1.2" />
<line x1="276.56" y1="166.80" x2="276.56" y2="170.00" stroke="#000" stroke-width="1.2" />
<line x1="292.33" y1="529.40" x2="292.33" y2="526.20" stroke="#000" stroke-width="1.2" />
<line x1="292.33" y1="166.80" x2="292.33" y2="170.00" stroke="#000" stroke-width="1.2" />
<line x1="303.51" y1="529.40" x2="303.51" y2="526.20" stroke="#000" stroke-width="1.2" />
<line x1="303.51" y1="166.80" x2="303.51" y2="170.00" stroke="#000" stroke-width="1.2" />
<line x1="312.19" y1="529.40" x2="312.19" y2="526.20" stroke="#000" stroke-width="1.2" />
<line x1="312.19" y1="166.80" x2="312.19" y2="170.00" stroke="#000" stroke-width="1.2" />
<line x1="319.28" y1="529.40" x2="319.28" y2="526.20" stroke="#000" stroke-width="1.2" />
<line x1="319.28" y1="166.80" x2="319.28" y2="170.00" stroke="#000" stroke-width="1.2" />
<line x1="325.28" y1="529.40" x2="325.28" y2="526.20" stroke="#000" stroke-width="1.2" />
<line x1="325.28" y1="166.80" x2="325.28" y2="170.00" stroke="#000" stroke-width="1.2" />
<line x1="330.47" y1="529.40" x2="330.47" y2="526.20" stroke="#000" stroke-width="1.2" />
<line x1="330.47" y1="166.80" x2="330.47" y2="170.00" stroke="#000" stroke-width="1.2" />
<line x1="335.05" y1="529.40" x2="335.05" y2="526.20" stroke="#000" stroke-width="1.2" />
<line x1="335.05" y1="166.80" x2="335.05" y2="170.00" stroke="#000" stroke-width="1.2" />
<line x1="366.11" y1="529.40" x2="366.11" y2="526.20" stroke="#000" stroke-width="1.2" />
<line x1="366.11" y1="166.80" x2="366.11" y2="170.00" stroke="#000" stroke-width="1.2" />
<line x1="381.88" y1="529.40" x2="381.88" y2="526.20" stroke="#000" stroke-width="1.2" />
<line x1="381.88" y1="166.80" x2="381.88" y2="170.00" stroke="#000" stroke-width="1.2" />
<line x1="393.06" y1="529.40" x2="393.06" y2="526.20" stroke="#000" stroke-width="1.2" />
<line x1="393.06" y1="166.80" x2="393.06" y2="170.00" stroke="#000" stroke-width="1.2" />
<line x1="401.74" y1="529.40" x2="401.74" y2="526.20" stroke="#000" stroke-width="1.2" />
<line x1="401.74" y1="166.80" x2="401.74" y2="170.00" stroke="#000" stroke-width="1.2" />
<line x1="408.83" y1="529.40" x2="408.83" y2="526.20" stroke="#000" stroke-width="1.2" />
<line x1="408.83" y1="166.80" x2="408.83" y2="170.00" stroke="#000" stroke-width="1.2" />
<line x1="414.83" y1="529.40" x2="414.83" y2="526.20" stroke="#000" stroke-width="1.2" />
<line x1="414.83" y1="166.80" x2="414.83" y2="170.00" stroke="#000" stroke-width="1.2" />
<line x1="420.02" y1="529.40" x2="420.02" y2="526.20" stroke="#000" stroke-width="1.2" />
<line x1="420.02" y1="166.80" x2="420.02" y2="170.00" stroke="#000" stroke-width="1.2" />
<line x1="424.60" y1="529.40" x2="424.60" y2="526.20" stroke="#000" stroke-width="1.2" />
<line x1="424.60" y1="166.80" x2="424.60" y2="170.00" stroke="#000" stroke-width="1.2" />
<line x1="455.66" y1="529.40" x2="455.66" y2="526.20" stroke="#000" stroke-width="1.2" />
<line x1="455.66" y1="166.80" x2="455.66" y2="170.00" stroke="#000" stroke-width="1.2" />
<line x1="69.50" y1="526.10" x2="75.10" y2="526.10" stroke="#000" stroke-width="1.2" />
<line x1="456.10" y1="526.10" x2="450.50" y2="526.10" stroke="#000" stroke-width="1.2" />
<line x1="69.50" y1="460.22" x2="75.10" y2="460.22" stroke="#000" stroke-width="1.2" />
<line x1="456.10" y1="460.22" x2="450.50" y2="460.22" stroke="#000" stroke-width="1.2" />
<line x1="69.50" y1="394.34" x2="75.10" y2="394.34" stroke="#000" stroke-width="1.2" />
<line x1="456.10" y1="394.34" x2="450.50" y2="394.34" stroke="#000" stroke-width="1.2" />
<line x1="69.50" y1="328.46" x2="75.10" y2="328.46" stroke="#000" stroke-width="1.2" />
<line x1="456.10" y1="328.46" x2="450.50" y2="328.46" stroke="#000" stroke-width="1.2" />
<line x1="69.50" y1="262.58" x2="75.10" y2="262.58" stroke="#000" stroke-width="1.2" />
<line x1="456.10" y1="262.58" x2="450.50" y2="262.58" stroke="#000" stroke-width="1.2" />
<line x1="69.50" y1="196.70" x2="75.10" y2="196.70" stroke="#000" stroke-width="1.2" />
<line x1="456.10" y1="196.70" x2="450.50" y2="196.70" stroke="#000" stroke-width="1.2" />
<line x1="69.50" y1="512.92" x2="72.70" y2="512.92" stroke="#000" stroke-width="1.2" />
<line x1="456.10" y1="512.92" x2="452.90" y2="512.92" stroke="#000" stroke-width="1.2" />
<line x1="69.50" y1="499.75" x2="72.70" y2="499.75" stroke="#000" stroke-width="1.2" />
<line x1="456.10" y1="499.75" x2="452.90" y2="499.75" stroke="#000" stroke-width="1.2" />
<line x1="69.50" y1="486.57" x2="72.70" y2="486.57" stroke="#000" stroke-width="1.2" />
<line x1="456.10" y1="486.57" x2="452.90" y2="486.57" stroke="#000" stroke-width="1.2" />
<line x1="69.50" y1="473.40" x2="72.70" y2="473.40" stroke="#000" stroke-width="1.2" />
<line x1="456.10" y1="473.40" x2="452.90" y2="473.40" stroke="#000" stroke-width="1.2" />
<line x1="69.50" y1="447.04" x2="72.70" y2="447.04" stroke="#000" stroke-width="1.2" />
<line x1="456.10" y1="447.04" x2="452.90" y2="447.04" stroke="#000" stroke-width="1.2" />
<line x1="69.50" y1="433.87" x2="72.70" y2="433.87" stroke="#000" stroke-width="1.2" />
<line x1="456.10" y1="433.87" x2="452.90" y2="433.87" stroke="#000" stroke-width="1.2" />
<line x1="69.50" y1="420.69" x2="72.70" y2="420.69" stroke="#000" stroke-width="1.2" />
<line x1="456.10" y1="420.69" x2="452.90" y2="420.69" stroke="#000" stroke-width="1.2" />
<line x1="69.50" y1="407.52" x2="72.70" y2="407.52" stroke="#000" stroke-width="1.2" />
<line x1="456.10" y1="407.52" x2="452.90" y2="407.52" stroke="#000" stroke-width="1.2" />
<line x1="69.50" y1="381.16" x2="72.70" y2="381.16" stroke="#000" stroke-width="1.2" />
<line x1="456.10" y1="381.16" x2="452.90" y2="381.16" stroke="#000" stroke-width="1.2" />
<line x1="69.50" y1="367.99" x2="72.70" y2="367.99" stroke="#000" stroke-width="1.2" />
<line x1="456.10" y1="367.99" x2="452.90" y2="367.99" stroke="#000" stroke-width="1.2" />
<line x1="69.50" y1="354.81" x2="72.70" y2="354.81" stroke="#000" stroke-width="1.2" />
<line x1="456.10" y1="354.81" x2="452.90" y2="354.81" stroke="#000" stroke-width="1.2" />
<line x1="69.50" y1="341.64" x2="72.70" y2="341.64" stroke="#000" stroke-width="1.2" />
<line x1="456.10" y1="341.64" x2="452.90" y2="341.64" stroke="#000" stroke-width="1.2" />
<line x1="69.50" y1="315.28" x2="72.70" y2="315.28" stroke="#000" stroke-width="1.2" />
<line x1="456.10" y1="315.28" x2="452.90" y2="315.28" stroke="#000" stroke-width="1.2" />
<line x1="69.50" y1="302.11" x2="72.70" y2="302.11" stroke="#000" stroke-width="1.2" />
<line x1="456.10" y1="302.11" x2="452.90" y2="302.11" stroke="#000" stroke-width="1.2" />
<line x1="69.50" y1="288.93" x2="72.70" y2="288.93" stroke="#000" stroke-width="1.2" />
<line x1="456.10" y1="288.93" x2="452.90" y2="288.93" stroke="#000" stroke-width="1.2" />
<line x1="69.50" y1="275.76" x2="72.70" y2="275.76" stroke="#000" stroke-width="1.2" />
<line x1="456.10" y1="275.76" x2="452.90" y2="275.76" stroke="#000" stroke-width="1.2" />
<line x1="69.50" y1="249.40" x2="72.70" y2="249.40" stroke="#000" stroke-width="1.2" />
<line x1="456.10" y1="249.40" x2="452.90" y2="249.40" stroke="#000" stroke-width="1.2" />
<line x1="69.50" y1="236.23" x2="72.70" y2="236.23" stroke="#000" stroke-width="1.2" />
<line x1="456.10" y1="236.23" x2="452.90" y2="236.23" stroke="#000" stroke-width="1.2" />
<line x1="69.50" y1="223.05" x2="72.70" y2="223.05" stroke="#000" stroke-width="1.2" />
<line x1="456.10" y1="223.05" x2="452.90" y2="223.05" stroke="#000" stroke-width="1.2" />
<line x1="69.50" y1="209.88" x2="72.70" y2="209.88" stroke="#000" stroke-width="1.2" />
<line x1="456.10" y1="209.88" x2="452.90" y2="209.88" stroke="#000" stroke-width="1.2" />
<line x1="69.50" y1="183.52" x2="72.70" y2="183.52" stroke="#000" stroke-width="1.2" />
<line x1="456.10" y1="183.52" x2="452.90" y2="183.52" stroke="#000" stroke-width="1.2" />
<line x1="69.50" y1="170.35" x2="72.70" y2="170.35" stroke="#000" stroke-width="1.2" />
<line x1="456.10" y1="170.35" x2="452.90" y2="170.35" stroke="#000" stroke-width="1.2" />
<rect x="69.50" y="166.80" width="386.60" height="362.60" fill="none" stroke="#000" stroke-width="1.2"/>
<text x="65.30" y="533.30" font-size="18.9" text-anchor="end" textLength="39.00" lengthAdjust="spacingAndGlyphs" fill="#000" >0.40</text>
<text x="65.30" y="467.42" font-size="18.9" text-anchor="end" textLength="39.00" lengthAdjust="spacingAndGlyphs" fill="#000" >0.45</text>
<text x="65.30" y="401.54" font-size="18.9" text-anchor="end" textLength="39.00" lengthAdjust="spacingAndGlyphs" fill="#000" >0.50</text>
<text x="65.30" y="335.66" font-size="18.9" text-anchor="end" textLength="39.00" lengthAdjust="spacingAndGlyphs" fill="#000" >0.55</text>
<text x="65.30" y="269.78" font-size="18.9" text-anchor="end" textLength="39.00" lengthAdjust="spacingAndGlyphs" fill="#000" >0.60</text>
<text x="65.30" y="203.90" font-size="18.9" text-anchor="end" textLength="39.00" lengthAdjust="spacingAndGlyphs" fill="#000" >0.65</text>
<text x="55.40" y="548.60" font-size="20.4" text-anchor="start" textLength="21.60" lengthAdjust="spacingAndGlyphs" fill="#000" >10</text>
<text class="m" x="78.90" y="541.40" font-size="13.2" text-anchor="start" textLength="5.90" lengthAdjust="spacingAndGlyphs" fill="#000" >1</text>
<text x="144.95" y="548.60" font-size="20.4" text-anchor="start" textLength="21.60" lengthAdjust="spacingAndGlyphs" fill="#000" >10</text>
<text class="m" x="168.45" y="541.40" font-size="13.2" text-anchor="start" textLength="5.90" lengthAdjust="spacingAndGlyphs" fill="#000" >2</text>
<text x="234.50" y="548.60" font-size="20.4" text-anchor="start" textLength="21.60" lengthAdjust="spacingAndGlyphs" fill="#000" >10</text>
<text class="m" x="258.00" y="541.40" font-size="13.2" text-anchor="start" textLength="5.90" lengthAdjust="spacingAndGlyphs" fill="#000" >3</text>
<text x="324.05" y="548.60" font-size="20.4" text-anchor="start" textLength="21.60" lengthAdjust="spacingAndGlyphs" fill="#000" >10</text>
<text class="m" x="347.55" y="541.40" font-size="13.2" text-anchor="start" textLength="5.90" lengthAdjust="spacingAndGlyphs" fill="#000" >4</text>
<text x="413.60" y="548.60" font-size="20.4" text-anchor="start" textLength="21.60" lengthAdjust="spacingAndGlyphs" fill="#000" >10</text>
<text class="m" x="437.10" y="541.40" font-size="13.2" text-anchor="start" textLength="5.90" lengthAdjust="spacingAndGlyphs" fill="#000" >5</text>
<text x="236.60" y="571.40" font-size="21.5" text-anchor="start" font-style="italic" fill="#000" >t</text>
<text x="249.80" y="571.40" font-size="20.4" text-anchor="start" textLength="38.60" lengthAdjust="spacingAndGlyphs" fill="#000" >(ps)</text>
<text transform="translate(17.4,372.0) rotate(-90)" font-size="21" font-style="italic">T/T</text>
<text transform="translate(21.2,339.6) rotate(-90)" font-size="14.5">m</text>
<rect x="133.9" y="379.8" width="107.80" height="117.70" fill="#fff"/>
<polyline points="177.22,493.50 175.40,492.13 173.71,490.75 172.13,489.38 170.65,488.00 169.28,486.62 167.99,485.25 166.79,483.87 165.68,482.50 164.64,481.12 163.67,479.74 162.77,478.37 161.93,476.99 161.16,475.61 160.44,474.24 159.78,472.86 159.17,471.49 158.61,470.11 158.10,468.73 157.63,467.36 157.21,465.98 156.84,464.60 156.50,463.23 156.20,461.85 155.94,460.48 155.72,459.10 155.53,457.72 155.38,456.35 155.27,454.97 155.19,453.60 155.14,452.22 155.13,450.84 155.15,449.47 155.21,448.09 155.30,446.71 155.42,445.34 155.58,443.96 155.77,442.59 156.00,441.21 156.26,439.83 156.56,438.46 156.90,437.08 157.27,435.70 157.68,434.33 158.14,432.95 158.64,431.58 159.18,430.20 159.76,428.82 160.40,427.45 161.08,426.07 161.82,424.70 162.61,423.32 163.46,421.94 164.37,420.57 165.34,419.19 166.39,417.81 167.50,416.44 168.69,415.06 169.96,413.69 171.32,412.31 172.77,410.93 174.31,409.56 175.96,408.18 177.73,406.80 179.61,405.43 181.62,404.05 183.77,402.68 186.06,401.30 188.52,399.92 191.15,398.55 193.96,397.17 196.97,395.79 200.20,394.42 203.67,393.04 207.39,391.67 211.39,390.29 215.69,388.91 220.32,387.54 225.31,386.16 230.69,384.79" fill="none" stroke="#008000" stroke-width="1.15" stroke-linejoin="round" stroke-linecap="butt" />
<line x1="201.23" y1="389.20" x2="233.02" y2="389.20" stroke="#008000" stroke-width="1.7" />
<line x1="201.23" y1="387.30" x2="201.23" y2="391.10" stroke="#008000" stroke-width="0.8" />
<line x1="233.02" y1="387.30" x2="233.02" y2="391.10" stroke="#008000" stroke-width="0.8" />
<circle cx="217.08" cy="389.20" r="2.3" fill="none" stroke="#008000" stroke-width="0.75"/>
<line x1="159.69" y1="410.84" x2="176.33" y2="410.84" stroke="#008000" stroke-width="1.7" />
<line x1="159.69" y1="408.94" x2="159.69" y2="412.74" stroke="#008000" stroke-width="0.8" />
<line x1="176.33" y1="408.94" x2="176.33" y2="412.74" stroke="#008000" stroke-width="0.8" />
<circle cx="167.99" cy="410.84" r="2.3" fill="none" stroke="#008000" stroke-width="0.75"/>
<line x1="151.72" y1="421.66" x2="167.99" y2="421.66" stroke="#008000" stroke-width="1.7" />
<line x1="151.72" y1="419.76" x2="151.72" y2="423.56" stroke="#008000" stroke-width="0.8" />
<line x1="167.99" y1="419.76" x2="167.99" y2="423.56" stroke="#008000" stroke-width="0.8" />
<circle cx="159.69" cy="421.66" r="2.3" fill="none" stroke="#008000" stroke-width="0.75"/>
<line x1="153.75" y1="428.15" x2="164.21" y2="428.15" stroke="#008000" stroke-width="1.7" />
<line x1="153.75" y1="426.25" x2="153.75" y2="430.05" stroke="#008000" stroke-width="0.8" />
<line x1="164.21" y1="426.25" x2="164.21" y2="430.05" stroke="#008000" stroke-width="0.8" />
<circle cx="158.90" cy="428.15" r="2.3" fill="none" stroke="#008000" stroke-width="0.75"/>
<line x1="152.38" y1="432.48" x2="166.25" y2="432.48" stroke="#008000" stroke-width="1.7" />
<line x1="152.38" y1="430.58" x2="152.38" y2="434.38" stroke="#008000" stroke-width="0.8" />
<line x1="166.25" y1="430.58" x2="166.25" y2="434.38" stroke="#008000" stroke-width="0.8" />
<circle cx="159.69" cy="432.48" r="2.3" fill="none" stroke="#008000" stroke-width="0.75"/>
<line x1="148.90" y1="438.97" x2="165.58" y2="438.97" stroke="#008000" stroke-width="1.7" />
<line x1="148.90" y1="437.07" x2="148.90" y2="440.87" stroke="#008000" stroke-width="0.8" />
<line x1="165.58" y1="437.07" x2="165.58" y2="440.87" stroke="#008000" stroke-width="0.8" />
<circle cx="157.20" cy="438.97" r="2.3" fill="none" stroke="#008000" stroke-width="0.75"/>
<line x1="151.01" y1="443.30" x2="165.29" y2="443.30" stroke="#008000" stroke-width="1.7" />
<line x1="151.01" y1="441.40" x2="151.01" y2="445.20" stroke="#008000" stroke-width="0.8" />
<line x1="165.29" y1="441.40" x2="165.29" y2="445.20" stroke="#008000" stroke-width="0.8" />
<circle cx="157.90" cy="443.30" r="2.3" fill="none" stroke="#008000" stroke-width="0.75"/>
<line x1="151.72" y1="447.63" x2="159.31" y2="447.63" stroke="#008000" stroke-width="1.7" />
<line x1="151.72" y1="445.73" x2="151.72" y2="449.53" stroke="#008000" stroke-width="0.8" />
<line x1="159.31" y1="445.73" x2="159.31" y2="449.53" stroke="#008000" stroke-width="0.8" />
<circle cx="155.79" cy="447.63" r="2.3" fill="none" stroke="#008000" stroke-width="0.75"/>
<line x1="147.49" y1="454.12" x2="162.51" y2="454.12" stroke="#008000" stroke-width="1.7" />
<line x1="147.49" y1="452.22" x2="147.49" y2="456.02" stroke="#008000" stroke-width="0.8" />
<line x1="162.51" y1="452.22" x2="162.51" y2="456.02" stroke="#008000" stroke-width="0.8" />
<circle cx="154.21" cy="454.12" r="2.3" fill="none" stroke="#008000" stroke-width="0.75"/>
<line x1="148.90" y1="460.61" x2="158.61" y2="460.61" stroke="#008000" stroke-width="1.7" />
<line x1="148.90" y1="458.71" x2="148.90" y2="462.51" stroke="#008000" stroke-width="0.8" />
<line x1="158.61" y1="458.71" x2="158.61" y2="462.51" stroke="#008000" stroke-width="0.8" />
<circle cx="153.01" cy="460.61" r="2.3" fill="none" stroke="#008000" stroke-width="0.75"/>
<line x1="151.72" y1="464.94" x2="159.31" y2="464.94" stroke="#008000" stroke-width="1.7" />
<line x1="151.72" y1="463.04" x2="151.72" y2="466.84" stroke="#008000" stroke-width="0.8" />
<line x1="159.31" y1="463.04" x2="159.31" y2="466.84" stroke="#008000" stroke-width="0.8" />
<circle cx="155.79" cy="464.94" r="2.3" fill="none" stroke="#008000" stroke-width="0.75"/>
<line x1="161.10" y1="486.58" x2="180.11" y2="486.58" stroke="#008000" stroke-width="1.7" />
<line x1="161.10" y1="484.68" x2="161.10" y2="488.48" stroke="#008000" stroke-width="0.8" />
<line x1="180.11" y1="484.68" x2="180.11" y2="488.48" stroke="#008000" stroke-width="0.8" />
<circle cx="170.40" cy="486.58" r="2.3" fill="none" stroke="#008000" stroke-width="0.75"/>
<line x1="167.20" y1="497.50" x2="167.20" y2="494.30" stroke="#555" stroke-width="1.0" />
<line x1="167.20" y1="379.80" x2="167.20" y2="383.00" stroke="#555" stroke-width="1.0" />
<line x1="208.70" y1="497.50" x2="208.70" y2="494.30" stroke="#555" stroke-width="1.0" />
<line x1="208.70" y1="379.80" x2="208.70" y2="383.00" stroke="#555" stroke-width="1.0" />
<line x1="142.30" y1="497.50" x2="142.30" y2="495.70" stroke="#555" stroke-width="1.0" />
<line x1="142.30" y1="379.80" x2="142.30" y2="381.60" stroke="#555" stroke-width="1.0" />
<line x1="150.60" y1="497.50" x2="150.60" y2="495.70" stroke="#555" stroke-width="1.0" />
<line x1="150.60" y1="379.80" x2="150.60" y2="381.60" stroke="#555" stroke-width="1.0" />
<line x1="158.90" y1="497.50" x2="158.90" y2="495.70" stroke="#555" stroke-width="1.0" />
<line x1="158.90" y1="379.80" x2="158.90" y2="381.60" stroke="#555" stroke-width="1.0" />
<line x1="175.50" y1="497.50" x2="175.50" y2="495.70" stroke="#555" stroke-width="1.0" />
<line x1="175.50" y1="379.80" x2="175.50" y2="381.60" stroke="#555" stroke-width="1.0" />
<line x1="183.80" y1="497.50" x2="183.80" y2="495.70" stroke="#555" stroke-width="1.0" />
<line x1="183.80" y1="379.80" x2="183.80" y2="381.60" stroke="#555" stroke-width="1.0" />
<line x1="192.10" y1="497.50" x2="192.10" y2="495.70" stroke="#555" stroke-width="1.0" />
<line x1="192.10" y1="379.80" x2="192.10" y2="381.60" stroke="#555" stroke-width="1.0" />
<line x1="200.40" y1="497.50" x2="200.40" y2="495.70" stroke="#555" stroke-width="1.0" />
<line x1="200.40" y1="379.80" x2="200.40" y2="381.60" stroke="#555" stroke-width="1.0" />
<line x1="217.00" y1="497.50" x2="217.00" y2="495.70" stroke="#555" stroke-width="1.0" />
<line x1="217.00" y1="379.80" x2="217.00" y2="381.60" stroke="#555" stroke-width="1.0" />
<line x1="225.30" y1="497.50" x2="225.30" y2="495.70" stroke="#555" stroke-width="1.0" />
<line x1="225.30" y1="379.80" x2="225.30" y2="381.60" stroke="#555" stroke-width="1.0" />
<line x1="233.60" y1="497.50" x2="233.60" y2="495.70" stroke="#555" stroke-width="1.0" />
<line x1="233.60" y1="379.80" x2="233.60" y2="381.60" stroke="#555" stroke-width="1.0" />
<line x1="133.90" y1="497.40" x2="137.10" y2="497.40" stroke="#555" stroke-width="1.0" />
<line x1="241.70" y1="497.40" x2="238.50" y2="497.40" stroke="#555" stroke-width="1.0" />
<line x1="133.90" y1="475.76" x2="137.10" y2="475.76" stroke="#555" stroke-width="1.0" />
<line x1="241.70" y1="475.76" x2="238.50" y2="475.76" stroke="#555" stroke-width="1.0" />
<line x1="133.90" y1="454.12" x2="137.10" y2="454.12" stroke="#555" stroke-width="1.0" />
<line x1="241.70" y1="454.12" x2="238.50" y2="454.12" stroke="#555" stroke-width="1.0" />
<line x1="133.90" y1="432.48" x2="137.10" y2="432.48" stroke="#555" stroke-width="1.0" />
<line x1="241.70" y1="432.48" x2="238.50" y2="432.48" stroke="#555" stroke-width="1.0" />
<line x1="133.90" y1="410.84" x2="137.10" y2="410.84" stroke="#555" stroke-width="1.0" />
<line x1="241.70" y1="410.84" x2="238.50" y2="410.84" stroke="#555" stroke-width="1.0" />
<line x1="133.90" y1="389.20" x2="137.10" y2="389.20" stroke="#555" stroke-width="1.0" />
<line x1="241.70" y1="389.20" x2="238.50" y2="389.20" stroke="#555" stroke-width="1.0" />
<line x1="133.90" y1="493.07" x2="135.70" y2="493.07" stroke="#555" stroke-width="1.0" />
<line x1="241.70" y1="493.07" x2="239.90" y2="493.07" stroke="#555" stroke-width="1.0" />
<line x1="133.90" y1="488.74" x2="135.70" y2="488.74" stroke="#555" stroke-width="1.0" />
<line x1="241.70" y1="488.74" x2="239.90" y2="488.74" stroke="#555" stroke-width="1.0" />
<line x1="133.90" y1="484.42" x2="135.70" y2="484.42" stroke="#555" stroke-width="1.0" />
<line x1="241.70" y1="484.42" x2="239.90" y2="484.42" stroke="#555" stroke-width="1.0" />
<line x1="133.90" y1="480.09" x2="135.70" y2="480.09" stroke="#555" stroke-width="1.0" />
<line x1="241.70" y1="480.09" x2="239.90" y2="480.09" stroke="#555" stroke-width="1.0" />
<line x1="133.90" y1="471.43" x2="135.70" y2="471.43" stroke="#555" stroke-width="1.0" />
<line x1="241.70" y1="471.43" x2="239.90" y2="471.43" stroke="#555" stroke-width="1.0" />
<line x1="133.90" y1="467.10" x2="135.70" y2="467.10" stroke="#555" stroke-width="1.0" />
<line x1="241.70" y1="467.10" x2="239.90" y2="467.10" stroke="#555" stroke-width="1.0" />
<line x1="133.90" y1="462.78" x2="135.70" y2="462.78" stroke="#555" stroke-width="1.0" />
<line x1="241.70" y1="462.78" x2="239.90" y2="462.78" stroke="#555" stroke-width="1.0" />
<line x1="133.90" y1="458.45" x2="135.70" y2="458.45" stroke="#555" stroke-width="1.0" />
<line x1="241.70" y1="458.45" x2="239.90" y2="458.45" stroke="#555" stroke-width="1.0" />
<line x1="133.90" y1="449.79" x2="135.70" y2="449.79" stroke="#555" stroke-width="1.0" />
<line x1="241.70" y1="449.79" x2="239.90" y2="449.79" stroke="#555" stroke-width="1.0" />
<line x1="133.90" y1="445.46" x2="135.70" y2="445.46" stroke="#555" stroke-width="1.0" />
<line x1="241.70" y1="445.46" x2="239.90" y2="445.46" stroke="#555" stroke-width="1.0" />
<line x1="133.90" y1="441.14" x2="135.70" y2="441.14" stroke="#555" stroke-width="1.0" />
<line x1="241.70" y1="441.14" x2="239.90" y2="441.14" stroke="#555" stroke-width="1.0" />
<line x1="133.90" y1="436.81" x2="135.70" y2="436.81" stroke="#555" stroke-width="1.0" />
<line x1="241.70" y1="436.81" x2="239.90" y2="436.81" stroke="#555" stroke-width="1.0" />
<line x1="133.90" y1="428.15" x2="135.70" y2="428.15" stroke="#555" stroke-width="1.0" />
<line x1="241.70" y1="428.15" x2="239.90" y2="428.15" stroke="#555" stroke-width="1.0" />
<line x1="133.90" y1="423.82" x2="135.70" y2="423.82" stroke="#555" stroke-width="1.0" />
<line x1="241.70" y1="423.82" x2="239.90" y2="423.82" stroke="#555" stroke-width="1.0" />
<line x1="133.90" y1="419.50" x2="135.70" y2="419.50" stroke="#555" stroke-width="1.0" />
<line x1="241.70" y1="419.50" x2="239.90" y2="419.50" stroke="#555" stroke-width="1.0" />
<line x1="133.90" y1="415.17" x2="135.70" y2="415.17" stroke="#555" stroke-width="1.0" />
<line x1="241.70" y1="415.17" x2="239.90" y2="415.17" stroke="#555" stroke-width="1.0" />
<line x1="133.90" y1="406.51" x2="135.70" y2="406.51" stroke="#555" stroke-width="1.0" />
<line x1="241.70" y1="406.51" x2="239.90" y2="406.51" stroke="#555" stroke-width="1.0" />
<line x1="133.90" y1="402.18" x2="135.70" y2="402.18" stroke="#555" stroke-width="1.0" />
<line x1="241.70" y1="402.18" x2="239.90" y2="402.18" stroke="#555" stroke-width="1.0" />
<line x1="133.90" y1="397.86" x2="135.70" y2="397.86" stroke="#555" stroke-width="1.0" />
<line x1="241.70" y1="397.86" x2="239.90" y2="397.86" stroke="#555" stroke-width="1.0" />
<line x1="133.90" y1="393.53" x2="135.70" y2="393.53" stroke="#555" stroke-width="1.0" />
<line x1="241.70" y1="393.53" x2="239.90" y2="393.53" stroke="#555" stroke-width="1.0" />
<line x1="133.90" y1="384.87" x2="135.70" y2="384.87" stroke="#555" stroke-width="1.0" />
<line x1="241.70" y1="384.87" x2="239.90" y2="384.87" stroke="#555" stroke-width="1.0" />
<line x1="133.90" y1="380.54" x2="135.70" y2="380.54" stroke="#555" stroke-width="1.0" />
<line x1="241.70" y1="380.54" x2="239.90" y2="380.54" stroke="#555" stroke-width="1.0" />
<rect x="133.90" y="379.80" width="107.80" height="117.70" fill="none" stroke="#555" stroke-width="1.0"/>
<text class="s" x="132.20" y="501.10" font-size="10.3" text-anchor="end" textLength="19.20" lengthAdjust="spacingAndGlyphs" fill="#000" >0.40</text>
<text class="s" x="132.20" y="479.46" font-size="10.3" text-anchor="end" textLength="19.20" lengthAdjust="spacingAndGlyphs" fill="#000" >0.45</text>
<text class="s" x="132.20" y="457.82" font-size="10.3" text-anchor="end" textLength="19.20" lengthAdjust="spacingAndGlyphs" fill="#000" >0.50</text>
<text class="s" x="132.20" y="436.18" font-size="10.3" text-anchor="end" textLength="19.20" lengthAdjust="spacingAndGlyphs" fill="#000" >0.55</text>
<text class="s" x="132.20" y="414.54" font-size="10.3" text-anchor="end" textLength="19.20" lengthAdjust="spacingAndGlyphs" fill="#000" >0.60</text>
<text class="s" x="132.20" y="392.90" font-size="10.3" text-anchor="end" textLength="19.20" lengthAdjust="spacingAndGlyphs" fill="#000" >0.65</text>
<text class="s" x="167.20" y="507.60" font-size="10.3" text-anchor="middle" textLength="11.00" lengthAdjust="spacingAndGlyphs" fill="#000" >20</text>
<text class="s" x="208.70" y="507.60" font-size="10.3" text-anchor="middle" textLength="11.00" lengthAdjust="spacingAndGlyphs" fill="#000" >30</text>
<rect x="325.1" y="306.1" width="122" height="83.8" rx="3" fill="#fff" fill-opacity="0.8" stroke="#ccc" stroke-width="1"/>
<line x1="340.90" y1="320.40" x2="360.20" y2="320.40" stroke="#008000" stroke-width="2.5" />
<line x1="340.90" y1="316.40" x2="340.90" y2="324.40" stroke="#008000" stroke-width="1.5" />
<line x1="360.20" y1="316.40" x2="360.20" y2="324.40" stroke="#008000" stroke-width="1.5" />
<circle cx="350.5" cy="320.4" r="4.9" fill="none" stroke="#008000" stroke-width="1.2"/>
<line x1="340.90" y1="347.20" x2="360.20" y2="347.20" stroke="#ff0000" stroke-width="3.0" />
<line x1="340.90" y1="343.20" x2="340.90" y2="351.20" stroke="#ff0000" stroke-width="1.5" />
<line x1="360.20" y1="343.20" x2="360.20" y2="351.20" stroke="#ff0000" stroke-width="1.5" />
<rect x="345.40" y="342.10" width="10.2" height="10.2" fill="none" stroke="#ff0000" stroke-width="1.4"/>
<line x1="340.90" y1="373.80" x2="360.20" y2="373.80" stroke="#0000ff" stroke-width="3.0" />
<line x1="340.90" y1="369.80" x2="340.90" y2="377.80" stroke="#0000ff" stroke-width="1.5" />
<line x1="360.20" y1="369.80" x2="360.20" y2="377.80" stroke="#0000ff" stroke-width="1.5" />
<path d="M345.90,369.20 L355.10,369.20 L350.5,378.40 Z" fill="none" stroke="#0000ff" stroke-width="1.3"/>
<text x="378.80" y="326.80" font-size="18.4" text-anchor="start" textLength="20.00" lengthAdjust="spacingAndGlyphs" fill="#000" >Zr</text>
<text x="378.70" y="352.90" font-size="18.4" text-anchor="start" textLength="59.80" lengthAdjust="spacingAndGlyphs" fill="#000" >BCC-Ta</text>
<text x="378.70" y="379.00" font-size="18.4" text-anchor="start" textLength="53.40" lengthAdjust="spacingAndGlyphs" fill="#000" >QCMP</text>
<text x="0.70" y="159.50" font-size="22.5" text-anchor="start" fill="#000" style="stroke-width:0.2px">b</text>
<rect x="497.70" y="177.05" width="5.6" height="5.6" fill="#1f77b4"/>
<rect x="515.26" y="181.74" width="5.6" height="5.6" fill="#1f77b4"/>
<rect x="538.47" y="172.52" width="5.6" height="5.6" fill="#1f77b4"/>
<rect x="556.03" y="185.95" width="5.6" height="5.6" fill="#1f77b4"/>
<rect x="579.24" y="239.18" width="5.6" height="5.6" fill="#1f77b4"/>
<rect x="596.80" y="323.16" width="5.6" height="5.6" fill="#1f77b4"/>
<rect x="607.07" y="326.72" width="5.6" height="5.6" fill="#1f77b4"/>
<rect x="614.36" y="328.82" width="5.6" height="5.6" fill="#1f77b4"/>
<rect x="637.57" y="329.95" width="5.6" height="5.6" fill="#1f77b4"/>
<rect x="655.13" y="330.28" width="5.6" height="5.6" fill="#1f77b4"/>
<rect x="665.40" y="330.28" width="5.6" height="5.6" fill="#1f77b4"/>
<rect x="672.69" y="330.28" width="5.6" height="5.6" fill="#1f77b4"/>
<polyline points="500.50,333.40 518.06,333.40 541.27,279.52 558.83,253.47 582.04,306.38 599.60,333.40 609.87,333.40 617.16,333.40 640.37,333.40 657.93,333.40 668.20,333.40 675.49,333.40" fill="none" stroke="#2ca02c" stroke-width="1.2" stroke-linejoin="round" stroke-linecap="butt" stroke-opacity="0.95"/>
<circle cx="500.50" cy="333.40" r="2.5" fill="#2ca02c"/>
<circle cx="518.06" cy="333.40" r="2.5" fill="#2ca02c"/>
<circle cx="541.27" cy="279.52" r="2.5" fill="#2ca02c"/>
<circle cx="558.83" cy="253.47" r="2.5" fill="#2ca02c"/>
<circle cx="582.04" cy="306.38" r="2.5" fill="#2ca02c"/>
<circle cx="599.60" cy="333.40" r="2.5" fill="#2ca02c"/>
<circle cx="609.87" cy="333.40" r="2.5" fill="#2ca02c"/>
<circle cx="617.16" cy="333.40" r="2.5" fill="#2ca02c"/>
<circle cx="640.37" cy="333.40" r="2.5" fill="#2ca02c"/>
<circle cx="657.93" cy="333.40" r="2.5" fill="#2ca02c"/>
<circle cx="668.20" cy="333.40" r="2.5" fill="#2ca02c"/>
<circle cx="675.49" cy="333.40" r="2.5" fill="#2ca02c"/>
<polyline points="500.50,179.69 518.06,184.22 541.27,229.04 558.83,268.36 582.04,269.33 599.60,325.96 609.87,329.35 617.16,331.46 640.37,332.75 657.93,333.08 668.20,333.08 675.49,333.08" fill="none" stroke="#d62728" stroke-width="1.2" stroke-linejoin="round" stroke-linecap="butt" stroke-opacity="0.9"/>
<path d="M497.70,176.89 L503.30,176.89 L500.50,182.49 Z" fill="#d62728"/>
<path d="M515.26,181.42 L520.86,181.42 L518.06,187.02 Z" fill="#d62728"/>
<path d="M538.47,226.24 L544.07,226.24 L541.27,231.84 Z" fill="#d62728"/>
<path d="M556.03,265.56 L561.63,265.56 L558.83,271.16 Z" fill="#d62728"/>
<path d="M579.24,266.53 L584.84,266.53 L582.04,272.13 Z" fill="#d62728"/>
<path d="M596.80,323.16 L602.40,323.16 L599.60,328.76 Z" fill="#d62728"/>
<path d="M607.07,326.55 L612.67,326.55 L609.87,332.15 Z" fill="#d62728"/>
<path d="M614.36,328.66 L619.96,328.66 L617.16,334.26 Z" fill="#d62728"/>
<path d="M637.57,329.95 L643.17,329.95 L640.37,335.55 Z" fill="#d62728"/>
<path d="M655.13,330.28 L660.73,330.28 L657.93,335.88 Z" fill="#d62728"/>
<path d="M665.40,330.28 L671.00,330.28 L668.20,335.88 Z" fill="#d62728"/>
<path d="M672.69,330.28 L678.29,330.28 L675.49,335.88 Z" fill="#d62728"/>
<polyline points="500.50,171.60 501.67,171.60 502.85,171.60 504.02,171.60 505.20,171.60 506.37,171.60 507.55,171.60 508.72,171.60 509.90,171.60 511.07,171.60 512.24,171.60 513.42,171.61 514.59,171.61 515.77,171.61 516.94,171.61 518.12,171.61 519.29,171.61 520.47,171.62 521.64,171.62 522.81,171.62 523.99,171.63 525.16,171.63 526.34,171.64 527.51,171.64 528.69,171.65 529.86,171.66 531.04,171.67 532.21,171.69 533.38,171.70 534.56,171.72 535.73,171.75 536.91,171.78 538.08,171.81 539.26,171.85 540.43,171.90 541.61,171.95 542.78,172.02 543.95,172.10 545.13,172.20 546.30,172.31 547.48,172.45 548.65,172.61 549.83,172.80 551.00,173.03 552.17,173.29 553.35,173.61 554.52,173.99 555.70,174.44 556.87,174.98 558.05,175.61 559.22,176.35 560.40,177.23 561.57,178.26 562.74,179.47 563.92,180.89 565.09,182.55 566.27,184.47 567.44,186.70 568.62,189.28 569.79,192.23 570.97,195.59 572.14,199.39 573.31,203.65 574.49,208.38 575.66,213.59 576.84,219.26 578.01,225.34 579.19,231.80 580.36,238.54 581.54,245.50 582.71,252.56 583.88,259.62 585.06,266.57 586.23,273.32 587.41,279.77 588.58,285.84 589.76,291.50 590.93,296.70 592.11,301.43 593.28,305.68 594.45,309.47 595.63,312.83 596.80,315.77 597.98,318.34 599.15,320.56 600.33,322.48 601.50,324.14 602.68,325.55 603.85,326.76 605.02,327.79 606.20,328.66 607.37,329.40 608.55,330.03 609.72,330.56 610.90,331.01 612.07,331.39 613.25,331.71 614.42,331.98 615.59,332.21 616.77,332.40 617.94,332.56 619.12,332.69 620.29,332.80 621.47,332.90 622.64,332.98 623.82,333.05 624.99,333.10 626.16,333.15 627.34,333.19 628.51,333.22 629.69,333.25 630.86,333.28 632.04,333.30 633.21,333.31 634.38,333.33 635.56,333.34 636.73,333.35 637.91,333.36 639.08,333.36 640.26,333.37 641.43,333.37 642.61,333.38 643.78,333.38 644.95,333.38 646.13,333.39 647.30,333.39 648.48,333.39 649.65,333.39 650.83,333.39 652.00,333.39 653.18,333.40 654.35,333.40 655.52,333.40 656.70,333.40 657.87,333.40 659.05,333.40 660.22,333.40 661.40,333.40 662.57,333.40 663.75,333.40 664.92,333.40 666.09,333.40 667.27,333.40 668.44,333.40 669.62,333.40 670.79,333.40 671.97,333.40 673.14,333.40 674.32,333.40 675.49,333.40" fill="none" stroke="#ff7f0e" stroke-width="2.0" stroke-linejoin="round" stroke-linecap="butt" stroke-dasharray="5.4 2.43"/>
<line x1="500.50" y1="341.30" x2="500.50" y2="337.90" stroke="#606060" stroke-width="1.0" />
<line x1="500.50" y1="163.70" x2="500.50" y2="167.10" stroke="#606060" stroke-width="1.0" />
<line x1="558.83" y1="341.30" x2="558.83" y2="337.90" stroke="#606060" stroke-width="1.0" />
<line x1="558.83" y1="163.70" x2="558.83" y2="167.10" stroke="#606060" stroke-width="1.0" />
<line x1="617.16" y1="341.30" x2="617.16" y2="337.90" stroke="#606060" stroke-width="1.0" />
<line x1="617.16" y1="163.70" x2="617.16" y2="167.10" stroke="#606060" stroke-width="1.0" />
<line x1="675.49" y1="341.30" x2="675.49" y2="337.90" stroke="#606060" stroke-width="1.0" />
<line x1="675.49" y1="163.70" x2="675.49" y2="167.10" stroke="#606060" stroke-width="1.0" />
<line x1="494.85" y1="341.30" x2="494.85" y2="339.40" stroke="#606060" stroke-width="1.0" />
<line x1="494.85" y1="163.70" x2="494.85" y2="165.60" stroke="#606060" stroke-width="1.0" />
<line x1="497.83" y1="341.30" x2="497.83" y2="339.40" stroke="#606060" stroke-width="1.0" />
<line x1="497.83" y1="163.70" x2="497.83" y2="165.60" stroke="#606060" stroke-width="1.0" />
<line x1="518.06" y1="341.30" x2="518.06" y2="339.40" stroke="#606060" stroke-width="1.0" />
<line x1="518.06" y1="163.70" x2="518.06" y2="165.60" stroke="#606060" stroke-width="1.0" />
<line x1="528.33" y1="341.30" x2="528.33" y2="339.40" stroke="#606060" stroke-width="1.0" />
<line x1="528.33" y1="163.70" x2="528.33" y2="165.60" stroke="#606060" stroke-width="1.0" />
<line x1="535.62" y1="341.30" x2="535.62" y2="339.40" stroke="#606060" stroke-width="1.0" />
<line x1="535.62" y1="163.70" x2="535.62" y2="165.60" stroke="#606060" stroke-width="1.0" />
<line x1="541.27" y1="341.30" x2="541.27" y2="339.40" stroke="#606060" stroke-width="1.0" />
<line x1="541.27" y1="163.70" x2="541.27" y2="165.60" stroke="#606060" stroke-width="1.0" />
<line x1="545.89" y1="341.30" x2="545.89" y2="339.40" stroke="#606060" stroke-width="1.0" />
<line x1="545.89" y1="163.70" x2="545.89" y2="165.60" stroke="#606060" stroke-width="1.0" />
<line x1="549.79" y1="341.30" x2="549.79" y2="339.40" stroke="#606060" stroke-width="1.0" />
<line x1="549.79" y1="163.70" x2="549.79" y2="165.60" stroke="#606060" stroke-width="1.0" />
<line x1="553.18" y1="341.30" x2="553.18" y2="339.40" stroke="#606060" stroke-width="1.0" />
<line x1="553.18" y1="163.70" x2="553.18" y2="165.60" stroke="#606060" stroke-width="1.0" />
<line x1="556.16" y1="341.30" x2="556.16" y2="339.40" stroke="#606060" stroke-width="1.0" />
<line x1="556.16" y1="163.70" x2="556.16" y2="165.60" stroke="#606060" stroke-width="1.0" />
<line x1="576.39" y1="341.30" x2="576.39" y2="339.40" stroke="#606060" stroke-width="1.0" />
<line x1="576.39" y1="163.70" x2="576.39" y2="165.60" stroke="#606060" stroke-width="1.0" />
<line x1="586.66" y1="341.30" x2="586.66" y2="339.40" stroke="#606060" stroke-width="1.0" />
<line x1="586.66" y1="163.70" x2="586.66" y2="165.60" stroke="#606060" stroke-width="1.0" />
<line x1="593.95" y1="341.30" x2="593.95" y2="339.40" stroke="#606060" stroke-width="1.0" />
<line x1="593.95" y1="163.70" x2="593.95" y2="165.60" stroke="#606060" stroke-width="1.0" />
<line x1="599.60" y1="341.30" x2="599.60" y2="339.40" stroke="#606060" stroke-width="1.0" />
<line x1="599.60" y1="163.70" x2="599.60" y2="165.60" stroke="#606060" stroke-width="1.0" />
<line x1="604.22" y1="341.30" x2="604.22" y2="339.40" stroke="#606060" stroke-width="1.0" />
<line x1="604.22" y1="163.70" x2="604.22" y2="165.60" stroke="#606060" stroke-width="1.0" />
<line x1="608.12" y1="341.30" x2="608.12" y2="339.40" stroke="#606060" stroke-width="1.0" />
<line x1="608.12" y1="163.70" x2="608.12" y2="165.60" stroke="#606060" stroke-width="1.0" />
<line x1="611.51" y1="341.30" x2="611.51" y2="339.40" stroke="#606060" stroke-width="1.0" />
<line x1="611.51" y1="163.70" x2="611.51" y2="165.60" stroke="#606060" stroke-width="1.0" />
<line x1="614.49" y1="341.30" x2="614.49" y2="339.40" stroke="#606060" stroke-width="1.0" />
<line x1="614.49" y1="163.70" x2="614.49" y2="165.60" stroke="#606060" stroke-width="1.0" />
<line x1="634.72" y1="341.30" x2="634.72" y2="339.40" stroke="#606060" stroke-width="1.0" />
<line x1="634.72" y1="163.70" x2="634.72" y2="165.60" stroke="#606060" stroke-width="1.0" />
<line x1="644.99" y1="341.30" x2="644.99" y2="339.40" stroke="#606060" stroke-width="1.0" />
<line x1="644.99" y1="163.70" x2="644.99" y2="165.60" stroke="#606060" stroke-width="1.0" />
<line x1="652.28" y1="341.30" x2="652.28" y2="339.40" stroke="#606060" stroke-width="1.0" />
<line x1="652.28" y1="163.70" x2="652.28" y2="165.60" stroke="#606060" stroke-width="1.0" />
<line x1="657.93" y1="341.30" x2="657.93" y2="339.40" stroke="#606060" stroke-width="1.0" />
<line x1="657.93" y1="163.70" x2="657.93" y2="165.60" stroke="#606060" stroke-width="1.0" />
<line x1="662.55" y1="341.30" x2="662.55" y2="339.40" stroke="#606060" stroke-width="1.0" />
<line x1="662.55" y1="163.70" x2="662.55" y2="165.60" stroke="#606060" stroke-width="1.0" />
<line x1="666.45" y1="341.30" x2="666.45" y2="339.40" stroke="#606060" stroke-width="1.0" />
<line x1="666.45" y1="163.70" x2="666.45" y2="165.60" stroke="#606060" stroke-width="1.0" />
<line x1="669.84" y1="341.30" x2="669.84" y2="339.40" stroke="#606060" stroke-width="1.0" />
<line x1="669.84" y1="163.70" x2="669.84" y2="165.60" stroke="#606060" stroke-width="1.0" />
<line x1="672.82" y1="341.30" x2="672.82" y2="339.40" stroke="#606060" stroke-width="1.0" />
<line x1="672.82" y1="163.70" x2="672.82" y2="165.60" stroke="#606060" stroke-width="1.0" />
<line x1="491.40" y1="333.40" x2="494.80" y2="333.40" stroke="#606060" stroke-width="1.0" />
<line x1="684.40" y1="333.40" x2="681.00" y2="333.40" stroke="#606060" stroke-width="1.0" />
<line x1="491.40" y1="301.04" x2="494.80" y2="301.04" stroke="#606060" stroke-width="1.0" />
<line x1="684.40" y1="301.04" x2="681.00" y2="301.04" stroke="#606060" stroke-width="1.0" />
<line x1="491.40" y1="268.68" x2="494.80" y2="268.68" stroke="#606060" stroke-width="1.0" />
<line x1="684.40" y1="268.68" x2="681.00" y2="268.68" stroke="#606060" stroke-width="1.0" />
<line x1="491.40" y1="236.32" x2="494.80" y2="236.32" stroke="#606060" stroke-width="1.0" />
<line x1="684.40" y1="236.32" x2="681.00" y2="236.32" stroke="#606060" stroke-width="1.0" />
<line x1="491.40" y1="203.96" x2="494.80" y2="203.96" stroke="#606060" stroke-width="1.0" />
<line x1="684.40" y1="203.96" x2="681.00" y2="203.96" stroke="#606060" stroke-width="1.0" />
<line x1="491.40" y1="171.60" x2="494.80" y2="171.60" stroke="#606060" stroke-width="1.0" />
<line x1="684.40" y1="171.60" x2="681.00" y2="171.60" stroke="#606060" stroke-width="1.0" />
<line x1="491.40" y1="325.31" x2="493.30" y2="325.31" stroke="#606060" stroke-width="1.0" />
<line x1="684.40" y1="325.31" x2="682.50" y2="325.31" stroke="#606060" stroke-width="1.0" />
<line x1="491.40" y1="317.22" x2="493.30" y2="317.22" stroke="#606060" stroke-width="1.0" />
<line x1="684.40" y1="317.22" x2="682.50" y2="317.22" stroke="#606060" stroke-width="1.0" />
<line x1="491.40" y1="309.13" x2="493.30" y2="309.13" stroke="#606060" stroke-width="1.0" />
<line x1="684.40" y1="309.13" x2="682.50" y2="309.13" stroke="#606060" stroke-width="1.0" />
<line x1="491.40" y1="292.95" x2="493.30" y2="292.95" stroke="#606060" stroke-width="1.0" />
<line x1="684.40" y1="292.95" x2="682.50" y2="292.95" stroke="#606060" stroke-width="1.0" />
<line x1="491.40" y1="284.86" x2="493.30" y2="284.86" stroke="#606060" stroke-width="1.0" />
<line x1="684.40" y1="284.86" x2="682.50" y2="284.86" stroke="#606060" stroke-width="1.0" />
<line x1="491.40" y1="276.77" x2="493.30" y2="276.77" stroke="#606060" stroke-width="1.0" />
<line x1="684.40" y1="276.77" x2="682.50" y2="276.77" stroke="#606060" stroke-width="1.0" />
<line x1="491.40" y1="260.59" x2="493.30" y2="260.59" stroke="#606060" stroke-width="1.0" />
<line x1="684.40" y1="260.59" x2="682.50" y2="260.59" stroke="#606060" stroke-width="1.0" />
<line x1="491.40" y1="252.50" x2="493.30" y2="252.50" stroke="#606060" stroke-width="1.0" />
<line x1="684.40" y1="252.50" x2="682.50" y2="252.50" stroke="#606060" stroke-width="1.0" />
<line x1="491.40" y1="244.41" x2="493.30" y2="244.41" stroke="#606060" stroke-width="1.0" />
<line x1="684.40" y1="244.41" x2="682.50" y2="244.41" stroke="#606060" stroke-width="1.0" />
<line x1="491.40" y1="228.23" x2="493.30" y2="228.23" stroke="#606060" stroke-width="1.0" />
<line x1="684.40" y1="228.23" x2="682.50" y2="228.23" stroke="#606060" stroke-width="1.0" />
<line x1="491.40" y1="220.14" x2="493.30" y2="220.14" stroke="#606060" stroke-width="1.0" />
<line x1="684.40" y1="220.14" x2="682.50" y2="220.14" stroke="#606060" stroke-width="1.0" />
<line x1="491.40" y1="212.05" x2="493.30" y2="212.05" stroke="#606060" stroke-width="1.0" />
<line x1="684.40" y1="212.05" x2="682.50" y2="212.05" stroke="#606060" stroke-width="1.0" />
<line x1="491.40" y1="195.87" x2="493.30" y2="195.87" stroke="#606060" stroke-width="1.0" />
<line x1="684.40" y1="195.87" x2="682.50" y2="195.87" stroke="#606060" stroke-width="1.0" />
<line x1="491.40" y1="187.78" x2="493.30" y2="187.78" stroke="#606060" stroke-width="1.0" />
<line x1="684.40" y1="187.78" x2="682.50" y2="187.78" stroke="#606060" stroke-width="1.0" />
<line x1="491.40" y1="179.69" x2="493.30" y2="179.69" stroke="#606060" stroke-width="1.0" />
<line x1="684.40" y1="179.69" x2="682.50" y2="179.69" stroke="#606060" stroke-width="1.0" />
<rect x="491.40" y="163.70" width="193.00" height="177.60" fill="none" stroke="#606060" stroke-width="1.0"/>
<text class="s" x="489.60" y="336.85" font-size="9.3" text-anchor="end" textLength="13.40" lengthAdjust="spacingAndGlyphs" fill="#000" >0.0</text>
<text class="s" x="489.60" y="304.49" font-size="9.3" text-anchor="end" textLength="13.40" lengthAdjust="spacingAndGlyphs" fill="#000" >0.2</text>
<text class="s" x="489.60" y="272.13" font-size="9.3" text-anchor="end" textLength="13.40" lengthAdjust="spacingAndGlyphs" fill="#000" >0.4</text>
<text class="s" x="489.60" y="239.77" font-size="9.3" text-anchor="end" textLength="13.40" lengthAdjust="spacingAndGlyphs" fill="#000" >0.6</text>
<text class="s" x="489.60" y="207.41" font-size="9.3" text-anchor="end" textLength="13.40" lengthAdjust="spacingAndGlyphs" fill="#000" >0.8</text>
<text class="s" x="489.60" y="175.05" font-size="9.3" text-anchor="end" textLength="13.40" lengthAdjust="spacingAndGlyphs" fill="#000" >1.0</text>
<text class="s" x="491.50" y="350.70" font-size="8.9" text-anchor="start" textLength="10.00" lengthAdjust="spacingAndGlyphs" fill="#000" >10</text>
<text class="s" x="502.40" y="347.30" font-size="6.2" text-anchor="start" textLength="7.00" lengthAdjust="spacingAndGlyphs" fill="#000" >10</text>
<text class="s" x="549.83" y="350.70" font-size="8.9" text-anchor="start" textLength="10.00" lengthAdjust="spacingAndGlyphs" fill="#000" >10</text>
<text class="s" x="560.73" y="347.30" font-size="6.2" text-anchor="start" textLength="7.00" lengthAdjust="spacingAndGlyphs" fill="#000" >11</text>
<text class="s" x="608.16" y="350.70" font-size="8.9" text-anchor="start" textLength="10.00" lengthAdjust="spacingAndGlyphs" fill="#000" >10</text>
<text class="s" x="619.06" y="347.30" font-size="6.2" text-anchor="start" textLength="7.00" lengthAdjust="spacingAndGlyphs" fill="#000" >12</text>
<text class="s" x="666.49" y="350.70" font-size="8.9" text-anchor="start" textLength="10.00" lengthAdjust="spacingAndGlyphs" fill="#000" >10</text>
<text class="s" x="677.39" y="347.30" font-size="6.2" text-anchor="start" textLength="7.00" lengthAdjust="spacingAndGlyphs" fill="#000" >13</text>
<text class="s" x="571.60" y="361.60" font-size="10.2" text-anchor="start" font-style="italic" fill="#000" >R</text>
<text class="s" x="581.90" y="361.60" font-size="10.2" text-anchor="start" textLength="22.00" lengthAdjust="spacingAndGlyphs" fill="#000" >(K/s)</text>
<rect x="619.6" y="167.5" width="60.4" height="53.9" rx="2" fill="#fff" fill-opacity="0.8" stroke="#ddd" stroke-width="0.8"/>
<text class="s" x="645.00" y="177.80" font-size="9.6" text-anchor="start" textLength="9.20" lengthAdjust="spacingAndGlyphs" fill="#000" >Ta</text>
<rect x="629.00" y="184.90" width="5.6" height="5.6" fill="#1f77b4"/>
<text class="s" x="646.00" y="190.40" font-size="8.9" text-anchor="start" textLength="29.80" lengthAdjust="spacingAndGlyphs" fill="#000" >Crystal</text>
<line x1="622.50" y1="200.50" x2="640.80" y2="200.50" stroke="#2ca02c" stroke-width="1.2" />
<circle cx="631.80" cy="200.50" r="2.5" fill="#2ca02c"/>
<text class="s" x="646.00" y="203.30" font-size="8.9" text-anchor="start" textLength="18.00" lengthAdjust="spacingAndGlyphs" fill="#000" >BCC</text>
<line x1="622.50" y1="213.20" x2="640.80" y2="213.20" stroke="#d62728" stroke-width="1.2" />
<path d="M629.00,210.40 L634.60,210.40 L631.80,216.00 Z" fill="#d62728"/>
<text class="s" x="646.00" y="216.10" font-size="8.9" text-anchor="start" textLength="25.90" lengthAdjust="spacingAndGlyphs" fill="#000" >QCMP</text>
<text x="461.60" y="160.30" font-size="22.5" text-anchor="start" fill="#000" style="stroke-width:0.2px">c</text>
<rect x="497.70" y="379.72" width="5.6" height="5.6" fill="#1f77b4"/>
<rect x="538.47" y="381.01" width="5.6" height="5.6" fill="#1f77b4"/>
<rect x="556.03" y="395.50" width="5.6" height="5.6" fill="#1f77b4"/>
<rect x="579.24" y="464.73" width="5.6" height="5.6" fill="#1f77b4"/>
<rect x="596.80" y="514.16" width="5.6" height="5.6" fill="#1f77b4"/>
<rect x="607.07" y="527.84" width="5.6" height="5.6" fill="#1f77b4"/>
<rect x="614.36" y="533.48" width="5.6" height="5.6" fill="#1f77b4"/>
<rect x="631.92" y="537.99" width="5.6" height="5.6" fill="#1f77b4"/>
<rect x="655.13" y="539.92" width="5.6" height="5.6" fill="#1f77b4"/>
<rect x="672.69" y="540.08" width="5.6" height="5.6" fill="#1f77b4"/>
<polyline points="500.50,489.75 541.27,476.71 558.83,476.55 582.04,502.31 599.60,528.71 609.87,536.28 617.16,539.98 634.72,542.56 657.93,543.04 675.49,543.20" fill="none" stroke="#2ca02c" stroke-width="1.3" stroke-linejoin="round" stroke-linecap="butt" stroke-opacity="0.85"/>
<circle cx="500.50" cy="489.75" r="2.5" fill="#2ca02c"/>
<circle cx="541.27" cy="476.71" r="2.5" fill="#2ca02c"/>
<circle cx="558.83" cy="476.55" r="2.5" fill="#2ca02c"/>
<circle cx="582.04" cy="502.31" r="2.5" fill="#2ca02c"/>
<circle cx="599.60" cy="528.71" r="2.5" fill="#2ca02c"/>
<circle cx="609.87" cy="536.28" r="2.5" fill="#2ca02c"/>
<circle cx="617.16" cy="539.98" r="2.5" fill="#2ca02c"/>
<circle cx="634.72" cy="542.56" r="2.5" fill="#2ca02c"/>
<circle cx="657.93" cy="543.04" r="2.5" fill="#2ca02c"/>
<circle cx="675.49" cy="543.20" r="2.5" fill="#2ca02c"/>
<polyline points="500.50,522.27 541.27,514.22 558.83,515.35 582.04,521.14 599.60,534.83 609.87,538.85 617.16,540.79 634.72,542.23 657.93,543.20 675.49,543.20" fill="none" stroke="#d62728" stroke-width="1.3" stroke-linejoin="round" stroke-linecap="butt" stroke-opacity="0.85"/>
<rect x="498.00" y="519.77" width="5.0" height="5.0" fill="#d62728"/>
<rect x="538.77" y="511.72" width="5.0" height="5.0" fill="#d62728"/>
<rect x="556.33" y="512.85" width="5.0" height="5.0" fill="#d62728"/>
<rect x="579.54" y="518.64" width="5.0" height="5.0" fill="#d62728"/>
<rect x="597.10" y="532.33" width="5.0" height="5.0" fill="#d62728"/>
<rect x="607.37" y="536.35" width="5.0" height="5.0" fill="#d62728"/>
<rect x="614.66" y="538.29" width="5.0" height="5.0" fill="#d62728"/>
<rect x="632.22" y="539.73" width="5.0" height="5.0" fill="#d62728"/>
<rect x="655.43" y="540.70" width="5.0" height="5.0" fill="#d62728"/>
<rect x="672.99" y="540.70" width="5.0" height="5.0" fill="#d62728"/>
<polyline points="500.50,457.55 541.27,479.12 558.83,493.45 582.04,531.77 599.60,539.66 609.87,541.75 617.16,542.23 634.72,542.72 657.93,543.20 675.49,543.20" fill="none" stroke="#9467bd" stroke-width="1.3" stroke-linejoin="round" stroke-linecap="butt" stroke-opacity="0.85"/>
<path d="M497.70,454.75 L503.30,454.75 L500.50,460.35 Z" fill="#9467bd"/>
<path d="M538.47,476.32 L544.07,476.32 L541.27,481.92 Z" fill="#9467bd"/>
<path d="M556.03,490.65 L561.63,490.65 L558.83,496.25 Z" fill="#9467bd"/>
<path d="M579.24,528.97 L584.84,528.97 L582.04,534.57 Z" fill="#9467bd"/>
<path d="M596.80,536.86 L602.40,536.86 L599.60,542.46 Z" fill="#9467bd"/>
<path d="M607.07,538.95 L612.67,538.95 L609.87,544.55 Z" fill="#9467bd"/>
<path d="M614.36,539.43 L619.96,539.43 L617.16,545.03 Z" fill="#9467bd"/>
<path d="M631.92,539.92 L637.52,539.92 L634.72,545.52 Z" fill="#9467bd"/>
<path d="M655.13,540.40 L660.73,540.40 L657.93,546.00 Z" fill="#9467bd"/>
<path d="M672.69,540.40 L678.29,540.40 L675.49,546.00 Z" fill="#9467bd"/>
<polyline points="500.50,382.28 501.67,382.29 502.85,382.30 504.02,382.31 505.20,382.32 506.37,382.34 507.55,382.35 508.72,382.37 509.90,382.39 511.07,382.41 512.24,382.44 513.42,382.47 514.59,382.50 515.77,382.53 516.94,382.57 518.12,382.62 519.29,382.67 520.47,382.72 521.64,382.78 522.81,382.85 523.99,382.93 525.16,383.01 526.34,383.11 527.51,383.21 528.69,383.33 529.86,383.46 531.04,383.61 532.21,383.78 533.38,383.96 534.56,384.17 535.73,384.40 536.91,384.65 538.08,384.93 539.26,385.25 540.43,385.60 541.61,386.00 542.78,386.43 543.95,386.92 545.13,387.46 546.30,388.05 547.48,388.72 548.65,389.45 549.83,390.26 551.00,391.16 552.17,392.16 553.35,393.25 554.52,394.46 555.70,395.78 556.87,397.23 558.05,398.82 559.22,400.56 560.40,402.46 561.57,404.52 562.74,406.75 563.92,409.16 565.09,411.76 566.27,414.55 567.44,417.53 568.62,420.70 569.79,424.06 570.97,427.61 572.14,431.34 573.31,435.23 574.49,439.27 575.66,443.44 576.84,447.73 578.01,452.10 579.19,456.54 580.36,461.02 581.54,465.51 582.71,469.98 583.88,474.41 585.06,478.77 586.23,483.03 587.41,487.17 588.58,491.17 589.76,495.02 590.93,498.70 592.11,502.20 593.28,505.52 594.45,508.64 595.63,511.57 596.80,514.31 597.98,516.86 599.15,519.23 600.33,521.42 601.50,523.44 602.68,525.29 603.85,526.99 605.02,528.55 606.20,529.97 607.37,531.26 608.55,532.44 609.72,533.50 610.90,534.47 612.07,535.35 613.25,536.14 614.42,536.86 615.59,537.50 616.77,538.09 617.94,538.61 619.12,539.08 620.29,539.51 621.47,539.89 622.64,540.23 623.82,540.54 624.99,540.82 626.16,541.06 627.34,541.29 628.51,541.49 629.69,541.67 630.86,541.83 632.04,541.97 633.21,542.10 634.38,542.22 635.56,542.32 636.73,542.41 637.91,542.49 639.08,542.57 640.26,542.63 641.43,542.69 642.61,542.75 643.78,542.80 644.95,542.84 646.13,542.88 647.30,542.91 648.48,542.94 649.65,542.97 650.83,542.99 652.00,543.01 653.18,543.03 654.35,543.05 655.52,543.07 656.70,543.08 657.87,543.09 659.05,543.10 660.22,543.11 661.40,543.12 662.57,543.13 663.75,543.14 664.92,543.15 666.09,543.15 667.27,543.16 668.44,543.16 669.62,543.17 670.79,543.17 671.97,543.17 673.14,543.18 674.32,543.18 675.49,543.18" fill="none" stroke="#ff7f0e" stroke-width="2.0" stroke-linejoin="round" stroke-linecap="butt" stroke-dasharray="5.4 2.43"/>
<line x1="500.50" y1="551.60" x2="500.50" y2="548.20" stroke="#606060" stroke-width="1.0" />
<line x1="500.50" y1="373.80" x2="500.50" y2="377.20" stroke="#606060" stroke-width="1.0" />
<line x1="558.83" y1="551.60" x2="558.83" y2="548.20" stroke="#606060" stroke-width="1.0" />
<line x1="558.83" y1="373.80" x2="558.83" y2="377.20" stroke="#606060" stroke-width="1.0" />
<line x1="617.16" y1="551.60" x2="617.16" y2="548.20" stroke="#606060" stroke-width="1.0" />
<line x1="617.16" y1="373.80" x2="617.16" y2="377.20" stroke="#606060" stroke-width="1.0" />
<line x1="675.49" y1="551.60" x2="675.49" y2="548.20" stroke="#606060" stroke-width="1.0" />
<line x1="675.49" y1="373.80" x2="675.49" y2="377.20" stroke="#606060" stroke-width="1.0" />
<line x1="494.85" y1="551.60" x2="494.85" y2="549.70" stroke="#606060" stroke-width="1.0" />
<line x1="494.85" y1="373.80" x2="494.85" y2="375.70" stroke="#606060" stroke-width="1.0" />
<line x1="497.83" y1="551.60" x2="497.83" y2="549.70" stroke="#606060" stroke-width="1.0" />
<line x1="497.83" y1="373.80" x2="497.83" y2="375.70" stroke="#606060" stroke-width="1.0" />
<line x1="518.06" y1="551.60" x2="518.06" y2="549.70" stroke="#606060" stroke-width="1.0" />
<line x1="518.06" y1="373.80" x2="518.06" y2="375.70" stroke="#606060" stroke-width="1.0" />
<line x1="528.33" y1="551.60" x2="528.33" y2="549.70" stroke="#606060" stroke-width="1.0" />
<line x1="528.33" y1="373.80" x2="528.33" y2="375.70" stroke="#606060" stroke-width="1.0" />
<line x1="535.62" y1="551.60" x2="535.62" y2="549.70" stroke="#606060" stroke-width="1.0" />
<line x1="535.62" y1="373.80" x2="535.62" y2="375.70" stroke="#606060" stroke-width="1.0" />
<line x1="541.27" y1="551.60" x2="541.27" y2="549.70" stroke="#606060" stroke-width="1.0" />
<line x1="541.27" y1="373.80" x2="541.27" y2="375.70" stroke="#606060" stroke-width="1.0" />
<line x1="545.89" y1="551.60" x2="545.89" y2="549.70" stroke="#606060" stroke-width="1.0" />
<line x1="545.89" y1="373.80" x2="545.89" y2="375.70" stroke="#606060" stroke-width="1.0" />
<line x1="549.79" y1="551.60" x2="549.79" y2="549.70" stroke="#606060" stroke-width="1.0" />
<line x1="549.79" y1="373.80" x2="549.79" y2="375.70" stroke="#606060" stroke-width="1.0" />
<line x1="553.18" y1="551.60" x2="553.18" y2="549.70" stroke="#606060" stroke-width="1.0" />
<line x1="553.18" y1="373.80" x2="553.18" y2="375.70" stroke="#606060" stroke-width="1.0" />
<line x1="556.16" y1="551.60" x2="556.16" y2="549.70" stroke="#606060" stroke-width="1.0" />
<line x1="556.16" y1="373.80" x2="556.16" y2="375.70" stroke="#606060" stroke-width="1.0" />
<line x1="576.39" y1="551.60" x2="576.39" y2="549.70" stroke="#606060" stroke-width="1.0" />
<line x1="576.39" y1="373.80" x2="576.39" y2="375.70" stroke="#606060" stroke-width="1.0" />
<line x1="586.66" y1="551.60" x2="586.66" y2="549.70" stroke="#606060" stroke-width="1.0" />
<line x1="586.66" y1="373.80" x2="586.66" y2="375.70" stroke="#606060" stroke-width="1.0" />
<line x1="593.95" y1="551.60" x2="593.95" y2="549.70" stroke="#606060" stroke-width="1.0" />
<line x1="593.95" y1="373.80" x2="593.95" y2="375.70" stroke="#606060" stroke-width="1.0" />
<line x1="599.60" y1="551.60" x2="599.60" y2="549.70" stroke="#606060" stroke-width="1.0" />
<line x1="599.60" y1="373.80" x2="599.60" y2="375.70" stroke="#606060" stroke-width="1.0" />
<line x1="604.22" y1="551.60" x2="604.22" y2="549.70" stroke="#606060" stroke-width="1.0" />
<line x1="604.22" y1="373.80" x2="604.22" y2="375.70" stroke="#606060" stroke-width="1.0" />
<line x1="608.12" y1="551.60" x2="608.12" y2="549.70" stroke="#606060" stroke-width="1.0" />
<line x1="608.12" y1="373.80" x2="608.12" y2="375.70" stroke="#606060" stroke-width="1.0" />
<line x1="611.51" y1="551.60" x2="611.51" y2="549.70" stroke="#606060" stroke-width="1.0" />
<line x1="611.51" y1="373.80" x2="611.51" y2="375.70" stroke="#606060" stroke-width="1.0" />
<line x1="614.49" y1="551.60" x2="614.49" y2="549.70" stroke="#606060" stroke-width="1.0" />
<line x1="614.49" y1="373.80" x2="614.49" y2="375.70" stroke="#606060" stroke-width="1.0" />
<line x1="634.72" y1="551.60" x2="634.72" y2="549.70" stroke="#606060" stroke-width="1.0" />
<line x1="634.72" y1="373.80" x2="634.72" y2="375.70" stroke="#606060" stroke-width="1.0" />
<line x1="644.99" y1="551.60" x2="644.99" y2="549.70" stroke="#606060" stroke-width="1.0" />
<line x1="644.99" y1="373.80" x2="644.99" y2="375.70" stroke="#606060" stroke-width="1.0" />
<line x1="652.28" y1="551.60" x2="652.28" y2="549.70" stroke="#606060" stroke-width="1.0" />
<line x1="652.28" y1="373.80" x2="652.28" y2="375.70" stroke="#606060" stroke-width="1.0" />
<line x1="657.93" y1="551.60" x2="657.93" y2="549.70" stroke="#606060" stroke-width="1.0" />
<line x1="657.93" y1="373.80" x2="657.93" y2="375.70" stroke="#606060" stroke-width="1.0" />
<line x1="662.55" y1="551.60" x2="662.55" y2="549.70" stroke="#606060" stroke-width="1.0" />
<line x1="662.55" y1="373.80" x2="662.55" y2="375.70" stroke="#606060" stroke-width="1.0" />
<line x1="666.45" y1="551.60" x2="666.45" y2="549.70" stroke="#606060" stroke-width="1.0" />
<line x1="666.45" y1="373.80" x2="666.45" y2="375.70" stroke="#606060" stroke-width="1.0" />
<line x1="669.84" y1="551.60" x2="669.84" y2="549.70" stroke="#606060" stroke-width="1.0" />
<line x1="669.84" y1="373.80" x2="669.84" y2="375.70" stroke="#606060" stroke-width="1.0" />
<line x1="672.82" y1="551.60" x2="672.82" y2="549.70" stroke="#606060" stroke-width="1.0" />
<line x1="672.82" y1="373.80" x2="672.82" y2="375.70" stroke="#606060" stroke-width="1.0" />
<line x1="491.40" y1="543.20" x2="494.80" y2="543.20" stroke="#606060" stroke-width="1.0" />
<line x1="684.40" y1="543.20" x2="681.00" y2="543.20" stroke="#606060" stroke-width="1.0" />
<line x1="491.40" y1="511.00" x2="494.80" y2="511.00" stroke="#606060" stroke-width="1.0" />
<line x1="684.40" y1="511.00" x2="681.00" y2="511.00" stroke="#606060" stroke-width="1.0" />
<line x1="491.40" y1="478.80" x2="494.80" y2="478.80" stroke="#606060" stroke-width="1.0" />
<line x1="684.40" y1="478.80" x2="681.00" y2="478.80" stroke="#606060" stroke-width="1.0" />
<line x1="491.40" y1="446.60" x2="494.80" y2="446.60" stroke="#606060" stroke-width="1.0" />
<line x1="684.40" y1="446.60" x2="681.00" y2="446.60" stroke="#606060" stroke-width="1.0" />
<line x1="491.40" y1="414.40" x2="494.80" y2="414.40" stroke="#606060" stroke-width="1.0" />
<line x1="684.40" y1="414.40" x2="681.00" y2="414.40" stroke="#606060" stroke-width="1.0" />
<line x1="491.40" y1="382.20" x2="494.80" y2="382.20" stroke="#606060" stroke-width="1.0" />
<line x1="684.40" y1="382.20" x2="681.00" y2="382.20" stroke="#606060" stroke-width="1.0" />
<line x1="491.40" y1="535.15" x2="493.30" y2="535.15" stroke="#606060" stroke-width="1.0" />
<line x1="684.40" y1="535.15" x2="682.50" y2="535.15" stroke="#606060" stroke-width="1.0" />
<line x1="491.40" y1="527.10" x2="493.30" y2="527.10" stroke="#606060" stroke-width="1.0" />
<line x1="684.40" y1="527.10" x2="682.50" y2="527.10" stroke="#606060" stroke-width="1.0" />
<line x1="491.40" y1="519.05" x2="493.30" y2="519.05" stroke="#606060" stroke-width="1.0" />
<line x1="684.40" y1="519.05" x2="682.50" y2="519.05" stroke="#606060" stroke-width="1.0" />
<line x1="491.40" y1="502.95" x2="493.30" y2="502.95" stroke="#606060" stroke-width="1.0" />
<line x1="684.40" y1="502.95" x2="682.50" y2="502.95" stroke="#606060" stroke-width="1.0" />
<line x1="491.40" y1="494.90" x2="493.30" y2="494.90" stroke="#606060" stroke-width="1.0" />
<line x1="684.40" y1="494.90" x2="682.50" y2="494.90" stroke="#606060" stroke-width="1.0" />
<line x1="491.40" y1="486.85" x2="493.30" y2="486.85" stroke="#606060" stroke-width="1.0" />
<line x1="684.40" y1="486.85" x2="682.50" y2="486.85" stroke="#606060" stroke-width="1.0" />
<line x1="491.40" y1="470.75" x2="493.30" y2="470.75" stroke="#606060" stroke-width="1.0" />
<line x1="684.40" y1="470.75" x2="682.50" y2="470.75" stroke="#606060" stroke-width="1.0" />
<line x1="491.40" y1="462.70" x2="493.30" y2="462.70" stroke="#606060" stroke-width="1.0" />
<line x1="684.40" y1="462.70" x2="682.50" y2="462.70" stroke="#606060" stroke-width="1.0" />
<line x1="491.40" y1="454.65" x2="493.30" y2="454.65" stroke="#606060" stroke-width="1.0" />
<line x1="684.40" y1="454.65" x2="682.50" y2="454.65" stroke="#606060" stroke-width="1.0" />
<line x1="491.40" y1="438.55" x2="493.30" y2="438.55" stroke="#606060" stroke-width="1.0" />
<line x1="684.40" y1="438.55" x2="682.50" y2="438.55" stroke="#606060" stroke-width="1.0" />
<line x1="491.40" y1="430.50" x2="493.30" y2="430.50" stroke="#606060" stroke-width="1.0" />
<line x1="684.40" y1="430.50" x2="682.50" y2="430.50" stroke="#606060" stroke-width="1.0" />
<line x1="491.40" y1="422.45" x2="493.30" y2="422.45" stroke="#606060" stroke-width="1.0" />
<line x1="684.40" y1="422.45" x2="682.50" y2="422.45" stroke="#606060" stroke-width="1.0" />
<line x1="491.40" y1="406.35" x2="493.30" y2="406.35" stroke="#606060" stroke-width="1.0" />
<line x1="684.40" y1="406.35" x2="682.50" y2="406.35" stroke="#606060" stroke-width="1.0" />
<line x1="491.40" y1="398.30" x2="493.30" y2="398.30" stroke="#606060" stroke-width="1.0" />
<line x1="684.40" y1="398.30" x2="682.50" y2="398.30" stroke="#606060" stroke-width="1.0" />
<line x1="491.40" y1="390.25" x2="493.30" y2="390.25" stroke="#606060" stroke-width="1.0" />
<line x1="684.40" y1="390.25" x2="682.50" y2="390.25" stroke="#606060" stroke-width="1.0" />
<rect x="491.40" y="373.80" width="193.00" height="177.80" fill="none" stroke="#606060" stroke-width="1.0"/>
<text class="s" x="489.60" y="546.65" font-size="9.3" text-anchor="end" textLength="13.40" lengthAdjust="spacingAndGlyphs" fill="#000" >0.0</text>
<text class="s" x="489.60" y="514.45" font-size="9.3" text-anchor="end" textLength="13.40" lengthAdjust="spacingAndGlyphs" fill="#000" >0.2</text>
<text class="s" x="489.60" y="482.25" font-size="9.3" text-anchor="end" textLength="13.40" lengthAdjust="spacingAndGlyphs" fill="#000" >0.4</text>
<text class="s" x="489.60" y="450.05" font-size="9.3" text-anchor="end" textLength="13.40" lengthAdjust="spacingAndGlyphs" fill="#000" >0.6</text>
<text class="s" x="489.60" y="417.85" font-size="9.3" text-anchor="end" textLength="13.40" lengthAdjust="spacingAndGlyphs" fill="#000" >0.8</text>
<text class="s" x="489.60" y="385.65" font-size="9.3" text-anchor="end" textLength="13.40" lengthAdjust="spacingAndGlyphs" fill="#000" >1.0</text>
<text class="s" x="491.50" y="561.00" font-size="8.9" text-anchor="start" textLength="10.00" lengthAdjust="spacingAndGlyphs" fill="#000" >10</text>
<text class="s" x="502.40" y="557.60" font-size="6.2" text-anchor="start" textLength="7.00" lengthAdjust="spacingAndGlyphs" fill="#000" >12</text>
<text class="s" x="549.83" y="561.00" font-size="8.9" text-anchor="start" textLength="10.00" lengthAdjust="spacingAndGlyphs" fill="#000" >10</text>
<text class="s" x="560.73" y="557.60" font-size="6.2" text-anchor="start" textLength="7.00" lengthAdjust="spacingAndGlyphs" fill="#000" >13</text>
<text class="s" x="608.16" y="561.00" font-size="8.9" text-anchor="start" textLength="10.00" lengthAdjust="spacingAndGlyphs" fill="#000" >10</text>
<text class="s" x="619.06" y="557.60" font-size="6.2" text-anchor="start" textLength="7.00" lengthAdjust="spacingAndGlyphs" fill="#000" >14</text>
<text class="s" x="666.49" y="561.00" font-size="8.9" text-anchor="start" textLength="10.00" lengthAdjust="spacingAndGlyphs" fill="#000" >10</text>
<text class="s" x="677.39" y="557.60" font-size="6.2" text-anchor="start" textLength="7.00" lengthAdjust="spacingAndGlyphs" fill="#000" >15</text>
<text class="s" x="571.60" y="571.90" font-size="10.2" text-anchor="start" font-style="italic" fill="#000" >R</text>
<text class="s" x="581.90" y="571.90" font-size="10.2" text-anchor="start" textLength="22.00" lengthAdjust="spacingAndGlyphs" fill="#000" >(K/s)</text>
<rect x="619.4" y="378.6" width="60.6" height="66.4" rx="2" fill="#fff" fill-opacity="0.8" stroke="#ddd" stroke-width="0.8"/>
<text class="s" x="645.60" y="387.90" font-size="9.6" text-anchor="start" textLength="7.80" lengthAdjust="spacingAndGlyphs" fill="#000" >Zr</text>
<rect x="628.60" y="395.40" width="5.6" height="5.6" fill="#1f77b4"/>
<text class="s" x="645.80" y="400.80" font-size="8.9" text-anchor="start" textLength="30.30" lengthAdjust="spacingAndGlyphs" fill="#000" >Crystal</text>
<line x1="622.20" y1="411.00" x2="640.70" y2="411.00" stroke="#2ca02c" stroke-width="1.2" />
<circle cx="631.40" cy="411.00" r="2.5" fill="#2ca02c"/>
<text class="s" x="645.80" y="413.80" font-size="8.9" text-anchor="start" textLength="18.00" lengthAdjust="spacingAndGlyphs" fill="#000" >BCC</text>
<line x1="622.20" y1="423.60" x2="640.70" y2="423.60" stroke="#d62728" stroke-width="1.2" />
<rect x="628.90" y="421.10" width="5.0" height="5.0" fill="#d62728"/>
<text class="s" x="645.80" y="426.40" font-size="8.9" text-anchor="start" textLength="17.00" lengthAdjust="spacingAndGlyphs" fill="#000" >FCC</text>
<line x1="622.20" y1="436.40" x2="640.70" y2="436.40" stroke="#9467bd" stroke-width="1.2" />
<path d="M628.60,433.60 L634.20,433.60 L631.40,439.20 Z" fill="#9467bd"/>
<text class="s" x="645.80" y="439.20" font-size="8.9" text-anchor="start" textLength="17.50" lengthAdjust="spacingAndGlyphs" fill="#000" >HCP</text>
<text x="461.60" y="368.30" font-size="22.5" text-anchor="start" fill="#000" style="stroke-width:0.2px">d</text>
<text transform="translate(472.0,260.60) rotate(-90)" class="s" font-size="10.8" font-style="italic">f</text>
<text transform="translate(473.0,257.20) rotate(-90)" class="s" font-size="8.1" textLength="12.2" lengthAdjust="spacingAndGlyphs">xtal</text>
<text transform="translate(472.0,470.80) rotate(-90)" class="s" font-size="10.8" font-style="italic">f</text>
<text transform="translate(473.0,467.40) rotate(-90)" class="s" font-size="8.1" textLength="12.2" lengthAdjust="spacingAndGlyphs">xtal</text>
</svg></body></html>
